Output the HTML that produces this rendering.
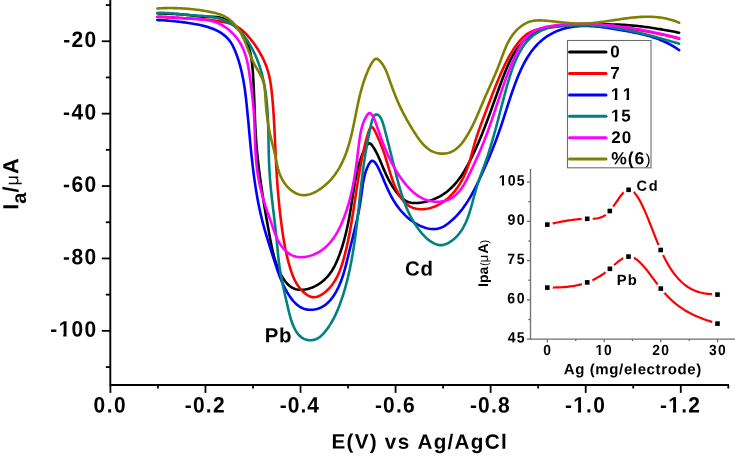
<!DOCTYPE html>
<html><head><meta charset="utf-8"><style>
html,body{margin:0;padding:0;background:#fff;}
body{width:735px;height:457px;overflow:hidden;}
svg{display:block;font-family:"Liberation Sans",sans-serif;will-change:transform;text-rendering:geometricPrecision;font-kerning:none;}
</style></head><body>
<svg width="735" height="457" viewBox="0 0 735 457">
<defs><mask id="m_cd" maskUnits="userSpaceOnUse" x="0" y="0" width="735" height="457"><rect x="0" y="0" width="735" height="457" fill="#fff"/><circle cx="547.30" cy="224.60" r="5.60" fill="#000"/><circle cx="587.20" cy="218.80" r="5.60" fill="#000"/><circle cx="609.80" cy="211.00" r="5.60" fill="#000"/><circle cx="628.60" cy="189.80" r="5.60" fill="#000"/><circle cx="660.70" cy="250.00" r="5.60" fill="#000"/><circle cx="717.50" cy="294.60" r="5.60" fill="#000"/></mask><mask id="m_pb" maskUnits="userSpaceOnUse" x="0" y="0" width="735" height="457"><rect x="0" y="0" width="735" height="457" fill="#fff"/><circle cx="547.30" cy="287.60" r="5.60" fill="#000"/><circle cx="587.20" cy="282.40" r="5.60" fill="#000"/><circle cx="609.90" cy="268.80" r="5.60" fill="#000"/><circle cx="628.50" cy="256.60" r="5.60" fill="#000"/><circle cx="660.80" cy="288.60" r="5.60" fill="#000"/><circle cx="717.50" cy="323.60" r="5.60" fill="#000"/></mask></defs>
<rect width="735" height="457" fill="#fff"/>
<path d="M157.43,13.28 L158.86,13.35 L160.31,13.41 L161.76,13.47 L163.21,13.53 L164.68,13.59 L166.15,13.64 L167.63,13.70 L169.11,13.75 L170.61,13.81 L172.10,13.87 L173.60,13.94 L175.11,14.01 L176.62,14.09 L178.13,14.17 L179.65,14.27 L181.16,14.37 L182.68,14.48 L184.21,14.61 L185.73,14.75 L187.25,14.90 L188.78,15.06 L190.30,15.24 L191.82,15.43 L193.35,15.62 L194.87,15.81 L196.39,16.00 L197.90,16.18 L199.41,16.35 L200.92,16.50 L202.43,16.63 L203.93,16.73 L205.43,16.80 L206.92,16.85 L208.41,16.85 L209.89,16.84 L211.36,16.83 L212.83,16.83 L214.29,16.87 L215.74,16.95 L217.18,17.10 L218.62,17.33 L220.04,17.64 L221.45,18.02 L222.85,18.47 L224.23,19.00 L225.59,19.58 L226.93,20.23 L228.25,20.95 L229.54,21.71 L230.82,22.54 L232.06,23.41 L233.27,24.34 L234.46,25.31 L235.61,26.32 L236.72,27.37 L237.80,28.46 L238.84,29.59 L239.84,30.75 L240.80,31.93 L241.72,33.14 L242.59,34.38 L243.41,35.63 L244.18,36.90 L244.91,38.20 L245.60,39.50 L246.24,40.83 L246.85,42.17 L247.41,43.53 L247.94,44.90 L248.43,46.28 L248.89,47.68 L249.31,49.09 L249.70,50.51 L250.06,51.94 L250.40,53.39 L250.71,54.84 L250.99,56.30 L251.25,57.77 L251.49,59.24 L251.70,60.73 L251.90,62.21 L252.08,63.71 L252.25,65.20 L252.40,66.71 L252.53,68.21 L252.66,69.72 L252.78,71.23 L252.89,72.73 L252.99,74.24 L253.09,75.75 L253.18,77.26 L253.27,78.77 L253.36,80.27 L253.44,81.78 L253.52,83.28 L253.60,84.78 L253.67,86.29 L253.74,87.79 L253.81,89.29 L253.88,90.79 L253.94,92.29 L254.00,93.79 L254.07,95.29 L254.12,96.78 L254.18,98.28 L254.24,99.78 L254.30,101.27 L254.35,102.77 L254.41,104.26 L254.46,105.76 L254.52,107.25 L254.57,108.74 L254.63,110.24 L254.68,111.73 L254.74,113.22 L254.80,114.72 L254.86,116.21 L254.92,117.70 L254.98,119.19 L255.04,120.68 L255.11,122.17 L255.17,123.66 L255.24,125.15 L255.32,126.65 L255.39,128.14 L255.47,129.63 L255.55,131.12 L255.63,132.61 L255.72,134.10 L255.81,135.59 L255.91,137.08 L256.01,138.57 L256.11,140.06 L256.22,141.56 L256.34,143.05 L256.45,144.54 L256.57,146.03 L256.70,147.52 L256.83,149.02 L256.97,150.51 L257.10,152.00 L257.25,153.49 L257.39,154.98 L257.55,156.48 L257.70,157.97 L257.86,159.46 L258.02,160.95 L258.19,162.45 L258.35,163.94 L258.53,165.43 L258.70,166.92 L258.88,168.41 L259.07,169.90 L259.25,171.39 L259.44,172.88 L259.64,174.38 L259.83,175.87 L260.03,177.36 L260.23,178.84 L260.44,180.33 L260.64,181.82 L260.85,183.31 L261.07,184.80 L261.28,186.29 L261.50,187.77 L261.72,189.26 L261.95,190.75 L262.17,192.23 L262.40,193.72 L262.63,195.20 L262.86,196.69 L263.10,198.17 L263.33,199.65 L263.57,201.13 L263.81,202.61 L264.05,204.10 L264.30,205.58 L264.54,207.05 L264.79,208.53 L265.04,210.01 L265.29,211.49 L265.54,212.96 L265.80,214.44 L266.05,215.91 L266.31,217.39 L266.57,218.86 L266.83,220.33 L267.09,221.80 L267.35,223.27 L267.61,224.74 L267.87,226.21 L268.14,227.68 L268.40,229.14 L268.67,230.61 L268.93,232.07 L269.20,233.53 L269.46,235.00 L269.73,236.46 L270.00,237.92 L270.27,239.37 L270.54,240.83 L270.82,242.29 L271.10,243.74 L271.39,245.19 L271.69,246.64 L272.00,248.09 L272.32,249.54 L272.65,250.99 L272.99,252.43 L273.35,253.88 L273.72,255.32 L274.11,256.76 L274.52,258.20 L274.95,259.63 L275.40,261.07 L275.88,262.50 L276.37,263.93 L276.90,265.36 L277.44,266.78 L278.02,268.21 L278.62,269.63 L279.26,271.05 L279.93,272.47 L280.63,273.88 L281.36,275.27 L282.13,276.64 L282.93,277.99 L283.78,279.30 L284.66,280.56 L285.58,281.77 L286.55,282.92 L287.56,284.01 L288.61,285.03 L289.71,285.96 L290.86,286.81 L292.05,287.56 L293.30,288.20 L294.59,288.74 L295.94,289.17 L297.33,289.48 L298.75,289.69 L300.21,289.79 L301.69,289.80 L303.20,289.71 L304.71,289.54 L306.24,289.28 L307.76,288.93 L309.28,288.51 L310.79,288.02 L312.28,287.46 L313.74,286.83 L315.18,286.14 L316.57,285.40 L317.93,284.60 L319.26,283.76 L320.54,282.87 L321.77,281.94 L322.96,280.97 L324.11,279.97 L325.21,278.95 L326.26,277.90 L327.26,276.83 L328.21,275.73 L329.12,274.62 L329.99,273.48 L330.82,272.33 L331.62,271.15 L332.37,269.96 L333.10,268.74 L333.80,267.51 L334.47,266.27 L335.11,265.00 L335.73,263.72 L336.33,262.42 L336.91,261.11 L337.48,259.79 L338.03,258.45 L338.57,257.09 L339.09,255.73 L339.61,254.35 L340.11,252.96 L340.61,251.55 L341.09,250.14 L341.56,248.72 L342.02,247.28 L342.47,245.84 L342.91,244.39 L343.34,242.93 L343.75,241.46 L344.16,239.99 L344.56,238.51 L344.95,237.02 L345.33,235.53 L345.71,234.03 L346.07,232.53 L346.42,231.03 L346.77,229.52 L347.11,228.01 L347.43,226.50 L347.75,224.98 L348.07,223.47 L348.37,221.95 L348.67,220.44 L348.96,218.92 L349.25,217.41 L349.52,215.89 L349.79,214.38 L350.06,212.88 L350.31,211.37 L350.56,209.87 L350.81,208.38 L351.05,206.88 L351.28,205.39 L351.52,203.91 L351.75,202.43 L351.97,200.95 L352.20,199.47 L352.42,198.00 L352.65,196.53 L352.87,195.06 L353.10,193.60 L353.33,192.14 L353.56,190.68 L353.79,189.22 L354.03,187.77 L354.27,186.32 L354.51,184.87 L354.77,183.42 L355.03,181.98 L355.29,180.53 L355.56,179.09 L355.84,177.65 L356.13,176.21 L356.43,174.78 L356.74,173.34 L357.07,171.91 L357.40,170.48 L357.74,169.05 L358.10,167.62 L358.47,166.19 L358.86,164.77 L359.26,163.34 L359.68,161.91 L360.12,160.49 L360.59,159.06 L361.08,157.64 L361.60,156.22 L362.15,154.79 L362.74,153.37 L363.37,151.95 L364.03,150.53 L364.74,149.10 L365.49,147.68 L366.30,146.27 L367.14,144.98 L368.01,143.95 L368.91,143.35 L369.81,143.32 L370.72,143.82 L371.62,144.72 L372.49,145.87 L373.34,147.13 L374.15,148.42 L374.93,149.75 L375.68,151.10 L376.40,152.48 L377.11,153.88 L377.78,155.29 L378.44,156.71 L379.08,158.14 L379.71,159.58 L380.32,161.00 L380.92,162.43 L381.51,163.84 L382.10,165.24 L382.68,166.63 L383.26,168.01 L383.85,169.38 L384.43,170.74 L385.02,172.09 L385.62,173.43 L386.23,174.77 L386.85,176.10 L387.49,177.42 L388.14,178.73 L388.81,180.04 L389.50,181.34 L390.22,182.64 L390.96,183.93 L391.73,185.22 L392.53,186.51 L393.37,187.79 L394.24,189.07 L395.14,190.34 L396.09,191.62 L397.08,192.88 L398.10,194.12 L399.17,195.33 L400.26,196.49 L401.40,197.59 L402.56,198.62 L403.76,199.56 L404.98,200.40 L406.24,201.13 L407.52,201.73 L408.83,202.21 L410.16,202.58 L411.52,202.83 L412.89,202.99 L414.29,203.07 L415.70,203.07 L417.14,203.01 L418.58,202.90 L420.04,202.73 L421.52,202.53 L423.00,202.28 L424.48,201.98 L425.97,201.65 L427.45,201.27 L428.94,200.85 L430.41,200.39 L431.88,199.89 L433.33,199.35 L434.77,198.77 L436.19,198.15 L437.59,197.49 L438.97,196.80 L440.32,196.07 L441.64,195.31 L442.93,194.51 L444.19,193.68 L445.42,192.81 L446.61,191.92 L447.78,190.99 L448.92,190.04 L450.04,189.05 L451.12,188.04 L452.19,187.00 L453.22,185.94 L454.23,184.85 L455.22,183.74 L456.19,182.61 L457.13,181.46 L458.05,180.29 L458.95,179.09 L459.84,177.88 L460.70,176.66 L461.54,175.42 L462.37,174.16 L463.18,172.89 L463.97,171.61 L464.75,170.32 L465.52,169.01 L466.27,167.70 L467.00,166.38 L467.73,165.05 L468.44,163.72 L469.15,162.38 L469.84,161.04 L470.52,159.69 L471.20,158.34 L471.86,156.99 L472.52,155.64 L473.17,154.29 L473.82,152.93 L474.45,151.58 L475.08,150.22 L475.70,148.86 L476.31,147.50 L476.92,146.14 L477.52,144.77 L478.12,143.40 L478.71,142.04 L479.29,140.67 L479.87,139.29 L480.44,137.92 L481.01,136.55 L481.57,135.17 L482.13,133.79 L482.68,132.41 L483.23,131.03 L483.77,129.65 L484.32,128.27 L484.85,126.88 L485.39,125.49 L485.92,124.11 L486.44,122.72 L486.97,121.33 L487.49,119.93 L488.01,118.54 L488.53,117.15 L489.04,115.75 L489.56,114.35 L490.07,112.95 L490.58,111.55 L491.09,110.15 L491.59,108.75 L492.10,107.35 L492.61,105.94 L493.12,104.53 L493.62,103.13 L494.13,101.72 L494.64,100.31 L495.14,98.90 L495.65,97.49 L496.16,96.07 L496.67,94.66 L497.18,93.24 L497.70,91.83 L498.21,90.41 L498.73,88.99 L499.25,87.57 L499.77,86.15 L500.29,84.73 L500.82,83.31 L501.35,81.89 L501.88,80.46 L502.42,79.04 L502.96,77.61 L503.51,76.19 L504.06,74.76 L504.61,73.33 L505.17,71.91 L505.75,70.49 L506.33,69.08 L506.92,67.67 L507.52,66.27 L508.13,64.88 L508.76,63.50 L509.40,62.12 L510.06,60.76 L510.73,59.41 L511.42,58.07 L512.13,56.75 L512.86,55.45 L513.61,54.16 L514.38,52.88 L515.18,51.63 L515.99,50.40 L516.84,49.19 L517.71,48.00 L518.60,46.83 L519.52,45.69 L520.48,44.58 L521.46,43.49 L522.47,42.42 L523.51,41.39 L524.59,40.39 L525.69,39.41 L526.83,38.47 L527.98,37.55 L529.17,36.67 L530.38,35.81 L531.62,34.99 L532.88,34.20 L534.16,33.44 L535.46,32.72 L536.79,32.02 L538.13,31.36 L539.49,30.74 L540.88,30.14 L542.27,29.58 L543.69,29.06 L545.11,28.57 L546.56,28.12 L548.01,27.70 L549.48,27.32 L550.96,26.97 L552.44,26.65 L553.93,26.37 L555.43,26.11 L556.93,25.87 L558.43,25.66 L559.94,25.48 L561.44,25.32 L562.94,25.18 L564.45,25.06 L565.95,24.95 L567.45,24.87 L568.95,24.79 L570.45,24.73 L571.95,24.69 L573.44,24.65 L574.94,24.62 L576.44,24.60 L577.94,24.59 L579.43,24.58 L580.93,24.57 L582.42,24.56 L583.92,24.56 L585.42,24.55 L586.91,24.54 L588.41,24.53 L589.90,24.51 L591.40,24.50 L592.89,24.48 L594.39,24.47 L595.88,24.45 L597.38,24.44 L598.87,24.42 L600.37,24.41 L601.86,24.40 L603.35,24.40 L604.85,24.39 L606.34,24.40 L607.84,24.40 L609.33,24.41 L610.83,24.43 L612.32,24.45 L613.82,24.48 L615.31,24.52 L616.81,24.56 L618.30,24.61 L619.80,24.67 L621.29,24.74 L622.79,24.82 L624.29,24.90 L625.78,25.00 L627.28,25.10 L628.77,25.21 L630.27,25.33 L631.76,25.46 L633.26,25.59 L634.75,25.73 L636.25,25.88 L637.74,26.04 L639.23,26.21 L640.73,26.38 L642.22,26.55 L643.71,26.74 L645.20,26.93 L646.69,27.13 L648.18,27.33 L649.66,27.54 L651.15,27.75 L652.64,27.97 L654.12,28.20 L655.60,28.43 L657.09,28.67 L658.57,28.91 L660.05,29.15 L661.52,29.40 L663.00,29.66 L664.47,29.92 L665.95,30.18 L667.42,30.45 L668.89,30.72 L670.36,30.99 L671.82,31.27 L673.28,31.55 L674.75,31.83 L676.21,32.12 L677.66,32.41 L679.12,32.70" stroke="#000000" stroke-width="2.6" fill="none" stroke-linejoin="round" stroke-linecap="round"/>
<path d="M157.27,17.01 L158.79,17.07 L160.30,17.14 L161.81,17.20 L163.32,17.26 L164.83,17.32 L166.33,17.38 L167.83,17.45 L169.33,17.51 L170.82,17.57 L172.32,17.63 L173.81,17.69 L175.30,17.76 L176.79,17.83 L178.28,17.89 L179.77,17.96 L181.26,18.03 L182.74,18.11 L184.23,18.18 L185.72,18.26 L187.20,18.34 L188.69,18.43 L190.18,18.52 L191.67,18.61 L193.15,18.70 L194.64,18.80 L196.14,18.91 L197.63,19.01 L199.12,19.13 L200.62,19.24 L202.12,19.37 L203.61,19.50 L205.12,19.63 L206.62,19.77 L208.13,19.91 L209.64,20.06 L211.15,20.22 L212.67,20.39 L214.19,20.56 L215.71,20.74 L217.23,20.94 L218.74,21.15 L220.25,21.38 L221.75,21.63 L223.24,21.91 L224.72,22.21 L226.19,22.55 L227.63,22.92 L229.06,23.33 L230.46,23.78 L231.85,24.27 L233.20,24.80 L234.53,25.39 L235.82,26.02 L237.09,26.71 L238.31,27.46 L239.51,28.26 L240.68,29.11 L241.81,30.00 L242.92,30.94 L244.01,31.92 L245.06,32.94 L246.10,33.99 L247.11,35.08 L248.10,36.19 L249.08,37.33 L250.04,38.49 L250.98,39.67 L251.90,40.86 L252.82,42.07 L253.72,43.30 L254.61,44.54 L255.48,45.79 L256.33,47.05 L257.17,48.33 L257.99,49.61 L258.79,50.91 L259.57,52.23 L260.33,53.55 L261.07,54.88 L261.79,56.22 L262.49,57.58 L263.16,58.94 L263.81,60.31 L264.43,61.69 L265.03,63.08 L265.61,64.48 L266.15,65.88 L266.67,67.30 L267.16,68.72 L267.61,70.14 L268.04,71.57 L268.44,73.01 L268.82,74.46 L269.17,75.91 L269.49,77.36 L269.80,78.82 L270.08,80.29 L270.34,81.75 L270.59,83.22 L270.81,84.70 L271.02,86.17 L271.22,87.65 L271.41,89.14 L271.58,90.62 L271.75,92.10 L271.90,93.59 L272.05,95.08 L272.20,96.56 L272.34,98.05 L272.47,99.54 L272.60,101.02 L272.73,102.51 L272.85,104.00 L272.97,105.49 L273.08,106.97 L273.20,108.46 L273.30,109.95 L273.41,111.44 L273.51,112.92 L273.61,114.41 L273.71,115.90 L273.80,117.39 L273.89,118.88 L273.98,120.37 L274.06,121.86 L274.15,123.35 L274.23,124.83 L274.31,126.32 L274.39,127.81 L274.46,129.30 L274.54,130.79 L274.61,132.28 L274.68,133.77 L274.76,135.27 L274.83,136.76 L274.90,138.25 L274.97,139.74 L275.03,141.23 L275.10,142.72 L275.17,144.21 L275.24,145.71 L275.31,147.20 L275.38,148.69 L275.44,150.18 L275.51,151.68 L275.58,153.17 L275.65,154.66 L275.73,156.16 L275.80,157.65 L275.87,159.15 L275.95,160.64 L276.02,162.13 L276.10,163.63 L276.18,165.12 L276.26,166.62 L276.35,168.12 L276.43,169.61 L276.52,171.11 L276.61,172.60 L276.70,174.10 L276.80,175.60 L276.90,177.10 L277.00,178.59 L277.10,180.09 L277.21,181.59 L277.31,183.09 L277.42,184.59 L277.54,186.09 L277.65,187.59 L277.77,189.09 L277.89,190.59 L278.02,192.09 L278.14,193.59 L278.27,195.09 L278.41,196.59 L278.54,198.09 L278.68,199.60 L278.83,201.10 L278.97,202.60 L279.12,204.11 L279.27,205.61 L279.43,207.11 L279.58,208.62 L279.74,210.12 L279.91,211.63 L280.08,213.13 L280.25,214.64 L280.42,216.15 L280.60,217.65 L280.78,219.16 L280.97,220.67 L281.16,222.17 L281.35,223.68 L281.55,225.19 L281.75,226.70 L281.95,228.21 L282.16,229.72 L282.38,231.22 L282.60,232.73 L282.82,234.23 L283.05,235.73 L283.29,237.23 L283.53,238.73 L283.78,240.23 L284.04,241.72 L284.30,243.21 L284.57,244.69 L284.85,246.17 L285.13,247.65 L285.42,249.13 L285.73,250.59 L286.04,252.06 L286.35,253.52 L286.68,254.97 L287.02,256.42 L287.36,257.86 L287.72,259.30 L288.09,260.73 L288.46,262.15 L288.85,263.56 L289.25,264.97 L289.66,266.37 L290.08,267.76 L290.51,269.15 L290.95,270.52 L291.41,271.89 L291.88,273.25 L292.38,274.60 L292.90,275.94 L293.44,277.27 L294.02,278.58 L294.64,279.89 L295.30,281.19 L296.00,282.48 L296.75,283.75 L297.56,285.02 L298.42,286.27 L299.34,287.51 L300.33,288.74 L301.38,289.95 L302.50,291.12 L303.67,292.25 L304.89,293.30 L306.15,294.27 L307.45,295.13 L308.79,295.87 L310.14,296.47 L311.51,296.90 L312.90,297.16 L314.29,297.22 L315.69,297.08 L317.07,296.77 L318.45,296.29 L319.80,295.68 L321.13,294.96 L322.43,294.14 L323.70,293.24 L324.92,292.29 L326.09,291.30 L327.21,290.28 L328.29,289.22 L329.33,288.14 L330.32,287.02 L331.27,285.87 L332.18,284.70 L333.05,283.50 L333.88,282.28 L334.68,281.03 L335.44,279.76 L336.17,278.46 L336.87,277.15 L337.54,275.82 L338.18,274.47 L338.79,273.10 L339.38,271.72 L339.94,270.32 L340.47,268.91 L340.99,267.49 L341.48,266.06 L341.96,264.62 L342.42,263.17 L342.86,261.71 L343.29,260.25 L343.70,258.78 L344.11,257.31 L344.50,255.84 L344.88,254.37 L345.26,252.90 L345.62,251.42 L345.98,249.95 L346.33,248.48 L346.68,247.01 L347.01,245.53 L347.34,244.06 L347.66,242.58 L347.98,241.11 L348.29,239.64 L348.59,238.16 L348.89,236.69 L349.18,235.21 L349.47,233.74 L349.75,232.26 L350.02,230.79 L350.30,229.31 L350.56,227.84 L350.82,226.36 L351.08,224.89 L351.34,223.42 L351.59,221.94 L351.83,220.47 L352.08,218.99 L352.32,217.52 L352.55,216.04 L352.79,214.57 L353.02,213.09 L353.25,211.62 L353.48,210.15 L353.71,208.67 L353.93,207.20 L354.15,205.72 L354.38,204.25 L354.60,202.78 L354.82,201.31 L355.04,199.83 L355.26,198.36 L355.48,196.89 L355.70,195.42 L355.92,193.94 L356.15,192.47 L356.37,191.00 L356.59,189.53 L356.82,188.06 L357.04,186.59 L357.27,185.12 L357.50,183.65 L357.74,182.18 L357.97,180.72 L358.21,179.25 L358.45,177.78 L358.69,176.31 L358.94,174.84 L359.19,173.38 L359.44,171.91 L359.70,170.44 L359.96,168.96 L360.23,167.49 L360.50,166.01 L360.78,164.53 L361.06,163.05 L361.35,161.57 L361.64,160.08 L361.94,158.59 L362.24,157.09 L362.55,155.59 L362.87,154.09 L363.19,152.58 L363.52,151.06 L363.86,149.54 L364.20,148.01 L364.55,146.48 L364.91,144.94 L365.29,143.41 L365.67,141.87 L366.06,140.33 L366.47,138.80 L366.89,137.28 L367.33,135.77 L367.79,134.27 L368.26,132.78 L368.76,131.33 L369.27,129.97 L369.81,128.79 L370.37,127.84 L370.96,127.21 L371.57,126.95 L372.20,127.13 L372.86,127.71 L373.54,128.62 L374.22,129.78 L374.91,131.09 L375.59,132.47 L376.27,133.88 L376.94,135.30 L377.59,136.73 L378.24,138.17 L378.88,139.62 L379.50,141.07 L380.12,142.54 L380.72,144.01 L381.31,145.48 L381.88,146.95 L382.44,148.43 L382.98,149.90 L383.51,151.37 L384.02,152.84 L384.52,154.30 L385.00,155.76 L385.46,157.21 L385.91,158.65 L386.35,160.09 L386.78,161.52 L387.20,162.95 L387.62,164.37 L388.04,165.79 L388.45,167.20 L388.86,168.61 L389.28,170.02 L389.70,171.42 L390.12,172.82 L390.55,174.21 L391.00,175.61 L391.45,177.00 L391.92,178.38 L392.40,179.77 L392.90,181.15 L393.42,182.53 L393.95,183.91 L394.52,185.29 L395.10,186.66 L395.71,188.04 L396.36,189.42 L397.03,190.79 L397.73,192.16 L398.47,193.53 L399.24,194.90 L400.05,196.24 L400.90,197.55 L401.80,198.83 L402.73,200.07 L403.71,201.25 L404.74,202.37 L405.82,203.42 L406.94,204.40 L408.12,205.28 L409.36,206.08 L410.64,206.78 L411.97,207.39 L413.34,207.91 L414.74,208.35 L416.18,208.69 L417.64,208.95 L419.12,209.12 L420.61,209.21 L422.12,209.22 L423.64,209.15 L425.16,209.00 L426.67,208.79 L428.18,208.50 L429.68,208.16 L431.16,207.75 L432.62,207.29 L434.05,206.78 L435.45,206.21 L436.83,205.60 L438.19,204.94 L439.51,204.23 L440.82,203.48 L442.09,202.68 L443.34,201.84 L444.56,200.97 L445.75,200.05 L446.92,199.10 L448.06,198.12 L449.18,197.10 L450.26,196.05 L451.33,194.97 L452.36,193.86 L453.37,192.72 L454.35,191.55 L455.30,190.37 L456.23,189.16 L457.13,187.92 L458.00,186.67 L458.85,185.40 L459.67,184.12 L460.46,182.82 L461.22,181.51 L461.96,180.18 L462.67,178.85 L463.35,177.50 L464.01,176.15 L464.64,174.79 L465.24,173.43 L465.81,172.07 L466.37,170.70 L466.90,169.33 L467.41,167.95 L467.90,166.57 L468.37,165.19 L468.83,163.80 L469.27,162.41 L469.70,161.02 L470.12,159.62 L470.53,158.22 L470.93,156.82 L471.32,155.41 L471.71,154.00 L472.10,152.59 L472.48,151.18 L472.87,149.77 L473.25,148.35 L473.64,146.93 L474.04,145.51 L474.44,144.09 L474.85,142.66 L475.27,141.24 L475.69,139.81 L476.13,138.38 L476.59,136.95 L477.06,135.52 L477.54,134.09 L478.03,132.66 L478.53,131.22 L479.03,129.79 L479.55,128.36 L480.07,126.92 L480.60,125.49 L481.13,124.05 L481.67,122.62 L482.20,121.18 L482.74,119.75 L483.28,118.32 L483.82,116.88 L484.35,115.45 L484.89,114.02 L485.43,112.59 L485.97,111.16 L486.51,109.73 L487.04,108.31 L487.58,106.88 L488.12,105.46 L488.67,104.04 L489.21,102.61 L489.75,101.20 L490.29,99.78 L490.84,98.36 L491.38,96.95 L491.93,95.54 L492.48,94.14 L493.03,92.73 L493.58,91.33 L494.13,89.93 L494.69,88.53 L495.24,87.14 L495.80,85.75 L496.36,84.36 L496.92,82.98 L497.49,81.60 L498.05,80.23 L498.62,78.85 L499.19,77.49 L499.77,76.12 L500.34,74.76 L500.92,73.41 L501.51,72.06 L502.10,70.71 L502.71,69.37 L503.31,68.03 L503.93,66.70 L504.56,65.37 L505.20,64.04 L505.85,62.72 L506.51,61.41 L507.19,60.10 L507.88,58.79 L508.58,57.49 L509.31,56.20 L510.05,54.91 L510.80,53.62 L511.58,52.34 L512.38,51.07 L513.20,49.80 L514.04,48.54 L514.90,47.28 L515.79,46.03 L516.70,44.78 L517.64,43.54 L518.61,42.31 L519.60,41.11 L520.62,39.92 L521.67,38.78 L522.75,37.67 L523.86,36.62 L525.01,35.62 L526.18,34.68 L527.39,33.82 L528.64,33.03 L529.92,32.32 L531.23,31.67 L532.57,31.10 L533.93,30.58 L535.32,30.11 L536.73,29.70 L538.16,29.33 L539.60,29.01 L541.06,28.72 L542.54,28.46 L544.02,28.22 L545.51,28.01 L547.01,27.82 L548.51,27.63 L550.02,27.46 L551.52,27.28 L553.02,27.11 L554.52,26.95 L556.03,26.78 L557.53,26.62 L559.03,26.47 L560.53,26.32 L562.02,26.17 L563.52,26.03 L565.02,25.89 L566.52,25.77 L568.02,25.64 L569.51,25.53 L571.01,25.42 L572.51,25.32 L574.00,25.23 L575.50,25.15 L577.00,25.07 L578.49,25.00 L579.99,24.95 L581.48,24.90 L582.98,24.87 L584.48,24.84 L585.97,24.83 L587.47,24.83 L588.96,24.84 L590.46,24.86 L591.95,24.89 L593.45,24.94 L594.94,24.99 L596.44,25.06 L597.93,25.14 L599.43,25.22 L600.92,25.32 L602.42,25.43 L603.91,25.54 L605.41,25.66 L606.90,25.79 L608.39,25.93 L609.89,26.08 L611.38,26.23 L612.87,26.39 L614.36,26.56 L615.85,26.73 L617.34,26.91 L618.83,27.09 L620.32,27.28 L621.81,27.47 L623.30,27.67 L624.78,27.87 L626.27,28.08 L627.75,28.29 L629.24,28.51 L630.72,28.73 L632.21,28.95 L633.69,29.18 L635.17,29.42 L636.65,29.66 L638.13,29.90 L639.61,30.15 L641.09,30.40 L642.56,30.66 L644.04,30.92 L645.51,31.19 L646.99,31.46 L648.46,31.74 L649.93,32.02 L651.40,32.31 L652.87,32.60 L654.34,32.90 L655.81,33.20 L657.28,33.50 L658.74,33.81 L660.21,34.13 L661.67,34.45 L663.13,34.77 L664.59,35.10 L666.05,35.43 L667.51,35.77 L668.97,36.12 L670.43,36.46 L671.88,36.82 L673.33,37.17 L674.79,37.54 L676.24,37.90 L677.69,38.27 L679.14,38.65" stroke="#ff0000" stroke-width="2.6" fill="none" stroke-linejoin="round" stroke-linecap="round"/>
<path d="M157.30,20.02 L158.81,20.08 L160.31,20.14 L161.81,20.21 L163.31,20.30 L164.80,20.39 L166.29,20.49 L167.78,20.60 L169.27,20.72 L170.75,20.85 L172.23,20.99 L173.71,21.14 L175.19,21.29 L176.67,21.45 L178.15,21.62 L179.63,21.79 L181.11,21.97 L182.60,22.16 L184.08,22.36 L185.56,22.56 L187.05,22.77 L188.54,22.98 L190.03,23.20 L191.52,23.43 L193.01,23.67 L194.50,23.92 L196.00,24.18 L197.48,24.46 L198.97,24.76 L200.45,25.07 L201.93,25.41 L203.40,25.76 L204.86,26.14 L206.31,26.55 L207.76,26.98 L209.20,27.45 L210.63,27.94 L212.04,28.47 L213.44,29.03 L214.82,29.62 L216.18,30.25 L217.52,30.92 L218.83,31.63 L220.12,32.38 L221.37,33.16 L222.59,34.00 L223.76,34.87 L224.90,35.79 L226.00,36.76 L227.05,37.78 L228.05,38.85 L229.01,39.96 L229.90,41.13 L230.75,42.35 L231.54,43.61 L232.30,44.91 L233.00,46.24 L233.68,47.60 L234.31,48.99 L234.92,50.40 L235.50,51.82 L236.05,53.24 L236.58,54.68 L237.10,56.11 L237.60,57.55 L238.07,58.99 L238.54,60.43 L238.98,61.87 L239.41,63.32 L239.82,64.76 L240.22,66.21 L240.60,67.66 L240.97,69.11 L241.32,70.57 L241.66,72.02 L241.99,73.48 L242.31,74.94 L242.61,76.40 L242.90,77.86 L243.18,79.32 L243.45,80.79 L243.70,82.25 L243.95,83.72 L244.19,85.19 L244.42,86.66 L244.64,88.13 L244.85,89.60 L245.06,91.07 L245.25,92.55 L245.44,94.02 L245.63,95.50 L245.81,96.98 L245.98,98.45 L246.15,99.93 L246.31,101.42 L246.47,102.90 L246.63,104.38 L246.78,105.86 L246.93,107.35 L247.08,108.83 L247.23,110.32 L247.37,111.81 L247.52,113.29 L247.66,114.78 L247.80,116.27 L247.94,117.76 L248.08,119.25 L248.22,120.74 L248.36,122.23 L248.50,123.72 L248.64,125.22 L248.77,126.71 L248.91,128.20 L249.05,129.69 L249.19,131.19 L249.32,132.68 L249.46,134.18 L249.60,135.67 L249.74,137.17 L249.88,138.66 L250.02,140.16 L250.16,141.65 L250.31,143.15 L250.45,144.64 L250.60,146.14 L250.74,147.63 L250.89,149.13 L251.04,150.62 L251.19,152.12 L251.35,153.61 L251.50,155.11 L251.66,156.60 L251.82,158.09 L251.98,159.59 L252.15,161.08 L252.32,162.57 L252.49,164.07 L252.66,165.56 L252.84,167.05 L253.02,168.54 L253.20,170.03 L253.38,171.52 L253.57,173.01 L253.77,174.50 L253.96,175.99 L254.16,177.48 L254.37,178.97 L254.57,180.45 L254.79,181.94 L255.00,183.42 L255.22,184.91 L255.45,186.39 L255.68,187.87 L255.91,189.35 L256.15,190.83 L256.40,192.31 L256.64,193.79 L256.90,195.27 L257.16,196.74 L257.42,198.22 L257.69,199.69 L257.97,201.17 L258.25,202.64 L258.54,204.11 L258.84,205.58 L259.14,207.04 L259.44,208.51 L259.75,209.97 L260.07,211.44 L260.40,212.90 L260.73,214.36 L261.07,215.82 L261.42,217.28 L261.77,218.73 L262.13,220.19 L262.50,221.64 L262.87,223.09 L263.26,224.54 L263.65,225.99 L264.04,227.43 L264.45,228.88 L264.86,230.32 L265.28,231.76 L265.70,233.20 L266.12,234.63 L266.56,236.07 L266.99,237.50 L267.43,238.93 L267.87,240.36 L268.32,241.79 L268.76,243.22 L269.21,244.64 L269.67,246.07 L270.12,247.49 L270.57,248.91 L271.02,250.32 L271.48,251.74 L271.93,253.16 L272.38,254.57 L272.83,255.98 L273.28,257.39 L273.73,258.80 L274.17,260.20 L274.62,261.61 L275.06,263.01 L275.52,264.41 L275.97,265.81 L276.43,267.21 L276.90,268.60 L277.37,270.00 L277.86,271.39 L278.35,272.78 L278.86,274.17 L279.38,275.55 L279.91,276.94 L280.46,278.32 L281.03,279.71 L281.61,281.09 L282.21,282.46 L282.84,283.84 L283.48,285.22 L284.15,286.59 L284.84,287.96 L285.56,289.33 L286.30,290.70 L287.07,292.07 L287.87,293.42 L288.70,294.76 L289.56,296.07 L290.45,297.36 L291.37,298.61 L292.32,299.83 L293.31,301.01 L294.33,302.13 L295.39,303.20 L296.48,304.21 L297.61,305.15 L298.78,306.02 L299.99,306.82 L301.23,307.53 L302.52,308.15 L303.85,308.68 L305.22,309.11 L306.63,309.44 L308.08,309.66 L309.55,309.78 L311.04,309.81 L312.54,309.73 L314.03,309.57 L315.52,309.31 L316.99,308.96 L318.42,308.52 L319.83,308.00 L321.18,307.39 L322.49,306.71 L323.75,305.95 L324.96,305.12 L326.12,304.22 L327.25,303.26 L328.33,302.25 L329.37,301.18 L330.37,300.07 L331.33,298.91 L332.25,297.72 L333.13,296.49 L333.98,295.23 L334.80,293.95 L335.58,292.64 L336.33,291.32 L337.05,289.98 L337.74,288.63 L338.41,287.26 L339.04,285.88 L339.65,284.48 L340.23,283.08 L340.80,281.67 L341.34,280.26 L341.85,278.84 L342.35,277.41 L342.83,275.98 L343.29,274.54 L343.74,273.09 L344.17,271.65 L344.59,270.20 L344.99,268.75 L345.39,267.29 L345.77,265.83 L346.14,264.38 L346.51,262.92 L346.87,261.46 L347.22,260.00 L347.57,258.54 L347.92,257.08 L348.27,255.63 L348.61,254.17 L348.96,252.72 L349.31,251.28 L349.66,249.83 L350.01,248.39 L350.36,246.95 L350.72,245.52 L351.07,244.08 L351.43,242.65 L351.79,241.22 L352.14,239.79 L352.50,238.36 L352.86,236.94 L353.21,235.51 L353.57,234.08 L353.92,232.65 L354.27,231.22 L354.62,229.79 L354.97,228.36 L355.31,226.92 L355.65,225.48 L355.99,224.04 L356.32,222.60 L356.65,221.16 L356.97,219.71 L357.29,218.25 L357.61,216.80 L357.92,215.34 L358.22,213.87 L358.52,212.40 L358.81,210.92 L359.09,209.44 L359.36,207.95 L359.63,206.45 L359.89,204.95 L360.15,203.44 L360.39,201.92 L360.63,200.40 L360.85,198.87 L361.07,197.32 L361.28,195.78 L361.49,194.23 L361.69,192.67 L361.90,191.12 L362.11,189.56 L362.33,188.01 L362.55,186.46 L362.79,184.92 L363.03,183.38 L363.30,181.86 L363.58,180.34 L363.88,178.84 L364.20,177.35 L364.55,175.88 L364.92,174.43 L365.33,172.99 L365.76,171.58 L366.23,170.19 L366.74,168.83 L367.29,167.49 L367.88,166.18 L368.51,164.90 L369.19,163.68 L369.90,162.60 L370.65,161.71 L371.42,161.10 L372.21,160.83 L373.02,160.94 L373.84,161.40 L374.67,162.15 L375.49,163.15 L376.31,164.35 L377.12,165.70 L377.91,167.16 L378.67,168.67 L379.42,170.19 L380.13,171.72 L380.83,173.24 L381.50,174.77 L382.16,176.28 L382.80,177.79 L383.43,179.29 L384.05,180.77 L384.67,182.24 L385.28,183.68 L385.89,185.11 L386.50,186.51 L387.11,187.89 L387.73,189.25 L388.36,190.59 L388.99,191.92 L389.63,193.23 L390.29,194.52 L390.96,195.80 L391.64,197.07 L392.35,198.33 L393.07,199.57 L393.82,200.81 L394.58,202.04 L395.38,203.26 L396.20,204.47 L397.04,205.68 L397.91,206.88 L398.81,208.06 L399.74,209.24 L400.69,210.39 L401.68,211.53 L402.68,212.66 L403.72,213.76 L404.78,214.84 L405.87,215.90 L406.99,216.94 L408.14,217.95 L409.32,218.93 L410.52,219.88 L411.75,220.81 L413.01,221.70 L414.30,222.55 L415.61,223.37 L416.95,224.14 L418.30,224.87 L419.67,225.56 L421.06,226.19 L422.46,226.77 L423.87,227.29 L425.28,227.76 L426.70,228.16 L428.12,228.49 L429.55,228.76 L430.97,228.95 L432.39,229.06 L433.81,229.08 L435.22,229.02 L436.62,228.86 L438.01,228.61 L439.39,228.25 L440.76,227.78 L442.11,227.21 L443.45,226.54 L444.76,225.79 L446.06,224.95 L447.33,224.06 L448.58,223.11 L449.80,222.13 L451.00,221.11 L452.17,220.08 L453.30,219.03 L454.41,217.97 L455.50,216.89 L456.55,215.80 L457.58,214.69 L458.59,213.56 L459.57,212.43 L460.53,211.28 L461.47,210.11 L462.39,208.94 L463.28,207.75 L464.16,206.55 L465.02,205.34 L465.85,204.12 L466.67,202.88 L467.48,201.64 L468.27,200.39 L469.04,199.13 L469.80,197.86 L470.54,196.58 L471.28,195.29 L472.00,194.00 L472.71,192.70 L473.41,191.39 L474.10,190.07 L474.78,188.75 L475.45,187.43 L476.11,186.09 L476.77,184.76 L477.43,183.42 L478.08,182.07 L478.72,180.72 L479.36,179.37 L480.00,178.01 L480.64,176.66 L481.27,175.30 L481.90,173.93 L482.53,172.57 L483.15,171.20 L483.77,169.83 L484.39,168.45 L485.00,167.08 L485.61,165.70 L486.21,164.32 L486.81,162.93 L487.41,161.55 L488.01,160.16 L488.60,158.77 L489.18,157.38 L489.77,155.99 L490.34,154.59 L490.92,153.19 L491.49,151.80 L492.05,150.39 L492.61,148.99 L493.17,147.59 L493.72,146.18 L494.27,144.78 L494.81,143.37 L495.35,141.96 L495.88,140.55 L496.41,139.14 L496.93,137.73 L497.45,136.31 L497.96,134.90 L498.47,133.48 L498.97,132.07 L499.47,130.65 L499.96,129.23 L500.44,127.81 L500.93,126.39 L501.40,124.97 L501.87,123.55 L502.34,122.13 L502.81,120.71 L503.27,119.29 L503.73,117.87 L504.19,116.45 L504.65,115.03 L505.10,113.61 L505.56,112.19 L506.01,110.76 L506.46,109.34 L506.92,107.92 L507.37,106.50 L507.83,105.08 L508.29,103.66 L508.75,102.24 L509.21,100.83 L509.67,99.41 L510.14,97.99 L510.61,96.58 L511.09,95.16 L511.57,93.75 L512.05,92.33 L512.54,90.92 L513.04,89.51 L513.54,88.10 L514.05,86.69 L514.57,85.28 L515.09,83.88 L515.62,82.47 L516.16,81.07 L516.70,79.67 L517.26,78.27 L517.82,76.87 L518.40,75.48 L518.98,74.09 L519.58,72.70 L520.19,71.32 L520.81,69.95 L521.45,68.58 L522.09,67.22 L522.76,65.87 L523.44,64.53 L524.13,63.20 L524.84,61.88 L525.56,60.57 L526.31,59.27 L527.07,57.99 L527.85,56.72 L528.65,55.47 L529.47,54.23 L530.31,53.01 L531.17,51.81 L532.05,50.63 L532.96,49.46 L533.89,48.31 L534.84,47.19 L535.82,46.08 L536.82,45.00 L537.84,43.94 L538.90,42.91 L539.98,41.90 L541.08,40.91 L542.22,39.95 L543.38,39.02 L544.57,38.11 L545.79,37.24 L547.03,36.39 L548.30,35.57 L549.59,34.79 L550.90,34.03 L552.23,33.31 L553.57,32.62 L554.94,31.96 L556.32,31.34 L557.71,30.76 L559.12,30.21 L560.54,29.70 L561.97,29.22 L563.40,28.79 L564.85,28.39 L566.30,28.02 L567.76,27.68 L569.23,27.38 L570.71,27.11 L572.19,26.87 L573.68,26.67 L575.17,26.49 L576.66,26.34 L578.16,26.21 L579.66,26.11 L581.17,26.04 L582.67,25.99 L584.18,25.97 L585.69,25.96 L587.20,25.98 L588.71,26.02 L590.21,26.08 L591.72,26.16 L593.22,26.25 L594.73,26.37 L596.23,26.49 L597.73,26.64 L599.23,26.79 L600.73,26.96 L602.23,27.15 L603.72,27.34 L605.22,27.55 L606.71,27.76 L608.20,27.98 L609.69,28.21 L611.18,28.45 L612.67,28.69 L614.16,28.94 L615.64,29.19 L617.13,29.44 L618.61,29.69 L620.09,29.95 L621.57,30.21 L623.04,30.46 L624.52,30.72 L625.99,30.98 L627.46,31.25 L628.93,31.52 L630.39,31.79 L631.86,32.07 L633.32,32.35 L634.77,32.64 L636.23,32.94 L637.68,33.25 L639.13,33.57 L640.57,33.89 L642.01,34.23 L643.45,34.58 L644.88,34.94 L646.31,35.32 L647.74,35.70 L649.16,36.11 L650.58,36.52 L651.99,36.96 L653.40,37.41 L654.80,37.88 L656.20,38.36 L657.59,38.87 L658.98,39.39 L660.36,39.94 L661.74,40.51 L663.11,41.09 L664.48,41.71 L665.84,42.34 L667.19,43.00 L668.54,43.69 L669.88,44.40 L671.21,45.14 L672.54,45.90 L673.87,46.69 L675.18,47.52 L676.49,48.37 L677.79,49.25 L679.09,50.16" stroke="#0000ff" stroke-width="2.6" fill="none" stroke-linejoin="round" stroke-linecap="round"/>
<path d="M157.21,12.98 L158.80,12.92 L160.38,12.90 L161.93,12.90 L163.46,12.92 L164.97,12.96 L166.46,13.03 L167.94,13.11 L169.41,13.21 L170.87,13.32 L172.32,13.44 L173.77,13.57 L175.21,13.71 L176.64,13.86 L178.08,14.01 L179.52,14.16 L180.96,14.31 L182.41,14.46 L183.86,14.61 L185.32,14.75 L186.80,14.88 L188.29,15.00 L189.79,15.12 L191.30,15.22 L192.82,15.32 L194.35,15.41 L195.89,15.51 L197.44,15.60 L198.99,15.70 L200.54,15.81 L202.09,15.92 L203.64,16.05 L205.19,16.19 L206.74,16.34 L208.28,16.52 L209.81,16.71 L211.33,16.93 L212.85,17.17 L214.35,17.44 L215.84,17.74 L217.31,18.07 L218.77,18.44 L220.21,18.84 L221.63,19.29 L223.03,19.77 L224.40,20.30 L225.76,20.88 L227.08,21.50 L228.38,22.18 L229.65,22.90 L230.89,23.67 L232.11,24.48 L233.31,25.33 L234.47,26.23 L235.62,27.16 L236.73,28.13 L237.83,29.14 L238.89,30.17 L239.93,31.24 L240.95,32.34 L241.95,33.47 L242.92,34.63 L243.86,35.81 L244.79,37.01 L245.69,38.24 L246.56,39.48 L247.42,40.74 L248.25,42.02 L249.06,43.31 L249.85,44.62 L250.61,45.93 L251.35,47.26 L252.08,48.59 L252.78,49.93 L253.46,51.27 L254.12,52.62 L254.75,53.97 L255.37,55.33 L255.97,56.70 L256.55,58.07 L257.12,59.45 L257.66,60.83 L258.18,62.21 L258.69,63.60 L259.18,65.00 L259.65,66.40 L260.10,67.80 L260.54,69.21 L260.96,70.62 L261.37,72.04 L261.76,73.46 L262.14,74.89 L262.50,76.32 L262.84,77.75 L263.17,79.19 L263.49,80.63 L263.79,82.08 L264.08,83.53 L264.36,84.98 L264.62,86.44 L264.88,87.89 L265.12,89.36 L265.35,90.82 L265.56,92.29 L265.77,93.76 L265.96,95.24 L266.15,96.71 L266.33,98.19 L266.49,99.68 L266.65,101.16 L266.79,102.65 L266.93,104.14 L267.06,105.63 L267.19,107.13 L267.30,108.62 L267.41,110.12 L267.51,111.62 L267.60,113.12 L267.69,114.63 L267.77,116.13 L267.84,117.64 L267.91,119.15 L267.98,120.66 L268.04,122.17 L268.10,123.68 L268.15,125.19 L268.19,126.71 L268.24,128.22 L268.28,129.74 L268.32,131.25 L268.36,132.77 L268.39,134.29 L268.42,135.81 L268.45,137.33 L268.48,138.84 L268.51,140.36 L268.54,141.88 L268.57,143.40 L268.60,144.92 L268.63,146.44 L268.66,147.96 L268.69,149.48 L268.73,150.99 L268.76,152.51 L268.80,154.03 L268.84,155.54 L268.88,157.06 L268.93,158.57 L268.98,160.09 L269.03,161.60 L269.09,163.11 L269.15,164.62 L269.22,166.13 L269.29,167.64 L269.37,169.14 L269.45,170.65 L269.54,172.15 L269.64,173.65 L269.74,175.15 L269.85,176.65 L269.96,178.14 L270.08,179.64 L270.20,181.13 L270.33,182.62 L270.46,184.11 L270.59,185.60 L270.73,187.09 L270.87,188.58 L271.02,190.06 L271.17,191.55 L271.33,193.03 L271.48,194.51 L271.64,196.00 L271.80,197.48 L271.97,198.96 L272.13,200.44 L272.30,201.92 L272.47,203.40 L272.64,204.87 L272.82,206.35 L272.99,207.83 L273.17,209.30 L273.34,210.78 L273.52,212.25 L273.69,213.73 L273.87,215.20 L274.05,216.68 L274.22,218.15 L274.40,219.62 L274.58,221.10 L274.75,222.57 L274.92,224.04 L275.10,225.52 L275.27,226.99 L275.43,228.46 L275.60,229.94 L275.77,231.41 L275.93,232.89 L276.09,234.36 L276.25,235.84 L276.40,237.31 L276.55,238.79 L276.70,240.26 L276.84,241.74 L276.98,243.22 L277.12,244.70 L277.26,246.18 L277.40,247.66 L277.54,249.14 L277.69,250.62 L277.83,252.10 L277.98,253.58 L278.13,255.07 L278.28,256.55 L278.45,258.04 L278.61,259.52 L278.79,261.01 L278.97,262.50 L279.17,263.99 L279.37,265.48 L279.58,266.98 L279.80,268.47 L280.04,269.97 L280.28,271.46 L280.53,272.96 L280.79,274.45 L281.06,275.95 L281.34,277.45 L281.62,278.94 L281.92,280.43 L282.21,281.93 L282.52,283.42 L282.82,284.90 L283.14,286.39 L283.45,287.87 L283.77,289.35 L284.10,290.83 L284.42,292.30 L284.75,293.77 L285.08,295.24 L285.42,296.70 L285.75,298.16 L286.08,299.61 L286.41,301.06 L286.75,302.50 L287.08,303.94 L287.41,305.36 L287.74,306.79 L288.06,308.20 L288.39,309.62 L288.72,311.03 L289.07,312.44 L289.43,313.85 L289.80,315.26 L290.19,316.68 L290.61,318.11 L291.06,319.55 L291.54,320.99 L292.05,322.45 L292.60,323.92 L293.19,325.41 L293.83,326.89 L294.52,328.37 L295.26,329.81 L296.06,331.21 L296.92,332.56 L297.84,333.83 L298.83,335.01 L299.90,336.09 L301.03,337.05 L302.24,337.88 L303.51,338.59 L304.82,339.18 L306.18,339.63 L307.57,339.96 L308.98,340.16 L310.40,340.22 L311.82,340.15 L313.22,339.95 L314.61,339.62 L315.97,339.15 L317.29,338.54 L318.56,337.80 L319.78,336.94 L320.96,335.97 L322.09,334.92 L323.17,333.79 L324.22,332.62 L325.23,331.40 L326.21,330.17 L327.15,328.92 L328.06,327.67 L328.93,326.40 L329.78,325.13 L330.60,323.84 L331.39,322.55 L332.15,321.24 L332.88,319.93 L333.59,318.61 L334.28,317.28 L334.95,315.94 L335.59,314.60 L336.21,313.25 L336.82,311.89 L337.40,310.52 L337.97,309.15 L338.53,307.78 L339.07,306.40 L339.59,305.01 L340.11,303.62 L340.61,302.22 L341.10,300.83 L341.59,299.42 L342.06,298.02 L342.53,296.60 L342.98,295.19 L343.43,293.77 L343.87,292.35 L344.30,290.93 L344.72,289.50 L345.13,288.07 L345.53,286.63 L345.93,285.19 L346.31,283.75 L346.69,282.31 L347.06,280.86 L347.43,279.41 L347.78,277.96 L348.13,276.50 L348.47,275.05 L348.81,273.59 L349.14,272.12 L349.46,270.66 L349.77,269.19 L350.08,267.72 L350.38,266.25 L350.67,264.78 L350.96,263.30 L351.25,261.82 L351.52,260.35 L351.79,258.86 L352.06,257.38 L352.32,255.90 L352.57,254.41 L352.83,252.93 L353.07,251.44 L353.31,249.95 L353.55,248.46 L353.78,246.97 L354.00,245.47 L354.23,243.98 L354.44,242.48 L354.66,240.99 L354.87,239.49 L355.08,238.00 L355.28,236.50 L355.48,235.00 L355.68,233.50 L355.87,232.01 L356.06,230.51 L356.25,229.01 L356.43,227.51 L356.62,226.01 L356.80,224.51 L356.97,223.01 L357.15,221.52 L357.32,220.02 L357.50,218.52 L357.67,217.02 L357.83,215.53 L358.00,214.03 L358.17,212.54 L358.33,211.04 L358.50,209.55 L358.66,208.05 L358.82,206.56 L358.98,205.07 L359.14,203.58 L359.31,202.10 L359.47,200.61 L359.63,199.12 L359.79,197.64 L359.95,196.16 L360.11,194.68 L360.27,193.20 L360.44,191.72 L360.60,190.25 L360.76,188.77 L360.93,187.30 L361.10,185.83 L361.27,184.37 L361.44,182.90 L361.61,181.44 L361.78,179.98 L361.96,178.52 L362.14,177.07 L362.32,175.61 L362.50,174.16 L362.69,172.71 L362.87,171.26 L363.06,169.81 L363.26,168.36 L363.46,166.91 L363.66,165.46 L363.87,164.00 L364.07,162.55 L364.29,161.09 L364.51,159.63 L364.73,158.16 L364.96,156.70 L365.19,155.22 L365.43,153.75 L365.67,152.27 L365.92,150.78 L366.17,149.28 L366.43,147.79 L366.70,146.28 L366.97,144.77 L367.24,143.25 L367.53,141.72 L367.82,140.18 L368.12,138.63 L368.42,137.08 L368.74,135.51 L369.06,133.94 L369.38,132.35 L369.72,130.76 L370.06,129.15 L370.41,127.53 L370.77,125.90 L371.15,124.27 L371.53,122.66 L371.95,121.12 L372.39,119.66 L372.86,118.33 L373.39,117.14 L373.96,116.14 L374.58,115.34 L375.27,114.78 L376.03,114.48 L376.85,114.45 L377.73,114.72 L378.61,115.25 L379.45,116.04 L380.23,117.06 L380.94,118.29 L381.60,119.68 L382.21,121.20 L382.78,122.81 L383.30,124.49 L383.80,126.19 L384.27,127.88 L384.71,129.52 L385.14,131.11 L385.55,132.66 L385.94,134.17 L386.33,135.65 L386.70,137.11 L387.07,138.54 L387.43,139.96 L387.78,141.37 L388.14,142.78 L388.50,144.19 L388.85,145.61 L389.21,147.03 L389.57,148.46 L389.94,149.89 L390.30,151.33 L390.67,152.77 L391.03,154.22 L391.40,155.67 L391.76,157.12 L392.13,158.58 L392.50,160.03 L392.87,161.49 L393.24,162.95 L393.61,164.41 L393.98,165.88 L394.34,167.34 L394.71,168.80 L395.08,170.27 L395.45,171.73 L395.82,173.19 L396.19,174.65 L396.56,176.11 L396.93,177.57 L397.31,179.02 L397.69,180.47 L398.07,181.92 L398.46,183.37 L398.85,184.82 L399.25,186.26 L399.66,187.70 L400.07,189.14 L400.49,190.57 L400.92,192.00 L401.36,193.43 L401.81,194.85 L402.27,196.26 L402.73,197.67 L403.22,199.08 L403.71,200.48 L404.21,201.88 L404.73,203.27 L405.26,204.65 L405.81,206.03 L406.37,207.40 L406.95,208.77 L407.54,210.12 L408.15,211.48 L408.78,212.82 L409.42,214.16 L410.09,215.49 L410.77,216.81 L411.47,218.12 L412.20,219.42 L412.94,220.72 L413.71,222.00 L414.50,223.28 L415.31,224.55 L416.15,225.81 L417.01,227.06 L417.89,228.30 L418.80,229.53 L419.74,230.74 L420.70,231.95 L421.69,233.14 L422.71,234.31 L423.76,235.46 L424.83,236.57 L425.93,237.64 L427.07,238.67 L428.23,239.65 L429.43,240.57 L430.66,241.44 L431.91,242.23 L433.21,242.96 L434.53,243.60 L435.89,244.16 L437.28,244.62 L438.68,244.95 L440.11,245.14 L441.54,245.14 L442.97,244.96 L444.40,244.62 L445.80,244.14 L447.19,243.53 L448.55,242.82 L449.86,242.03 L451.14,241.18 L452.36,240.29 L453.53,239.36 L454.65,238.40 L455.73,237.39 L456.76,236.35 L457.75,235.28 L458.69,234.17 L459.60,233.04 L460.46,231.87 L461.29,230.68 L462.08,229.45 L462.83,228.21 L463.56,226.93 L464.25,225.64 L464.91,224.32 L465.55,222.98 L466.15,221.62 L466.74,220.24 L467.30,218.85 L467.84,217.44 L468.35,216.01 L468.85,214.58 L469.33,213.13 L469.80,211.67 L470.26,210.20 L470.70,208.72 L471.13,207.24 L471.55,205.75 L471.96,204.25 L472.37,202.76 L472.77,201.26 L473.17,199.76 L473.57,198.27 L473.98,196.77 L474.38,195.28 L474.78,193.79 L475.20,192.31 L475.61,190.84 L476.04,189.38 L476.48,187.93 L476.92,186.48 L477.38,185.05 L477.84,183.62 L478.32,182.20 L478.79,180.79 L479.28,179.39 L479.77,177.99 L480.26,176.60 L480.76,175.21 L481.26,173.82 L481.76,172.43 L482.26,171.05 L482.77,169.67 L483.27,168.29 L483.77,166.91 L484.27,165.53 L484.77,164.15 L485.26,162.77 L485.75,161.38 L486.24,159.99 L486.71,158.59 L487.19,157.19 L487.66,155.79 L488.12,154.38 L488.58,152.97 L489.03,151.55 L489.48,150.14 L489.92,148.72 L490.36,147.29 L490.79,145.86 L491.22,144.43 L491.65,143.00 L492.07,141.56 L492.49,140.12 L492.91,138.68 L493.32,137.24 L493.73,135.80 L494.13,134.35 L494.54,132.90 L494.94,131.45 L495.34,130.00 L495.73,128.54 L496.12,127.09 L496.52,125.63 L496.91,124.18 L497.29,122.72 L497.68,121.26 L498.06,119.80 L498.45,118.34 L498.83,116.88 L499.21,115.42 L499.59,113.96 L499.97,112.50 L500.35,111.04 L500.73,109.58 L501.11,108.12 L501.49,106.67 L501.87,105.21 L502.25,103.75 L502.63,102.30 L503.01,100.84 L503.39,99.39 L503.78,97.94 L504.16,96.49 L504.54,95.04 L504.93,93.59 L505.32,92.15 L505.71,90.71 L506.10,89.27 L506.50,87.83 L506.89,86.40 L507.29,84.96 L507.70,83.54 L508.11,82.11 L508.53,80.69 L508.95,79.27 L509.38,77.85 L509.81,76.44 L510.25,75.03 L510.71,73.62 L511.17,72.22 L511.64,70.82 L512.13,69.42 L512.63,68.03 L513.15,66.64 L513.68,65.26 L514.22,63.87 L514.79,62.49 L515.37,61.12 L515.97,59.74 L516.59,58.37 L517.23,57.01 L517.90,55.64 L518.59,54.28 L519.30,52.93 L520.04,51.58 L520.80,50.24 L521.59,48.92 L522.42,47.62 L523.27,46.33 L524.15,45.08 L525.06,43.85 L526.00,42.65 L526.98,41.48 L528.00,40.35 L529.04,39.26 L530.12,38.21 L531.23,37.20 L532.38,36.24 L533.55,35.31 L534.75,34.42 L535.98,33.58 L537.23,32.78 L538.51,32.03 L539.81,31.31 L541.13,30.65 L542.48,30.03 L543.84,29.45 L545.22,28.92 L546.62,28.44 L548.04,28.00 L549.47,27.62 L550.91,27.28 L552.37,26.98 L553.84,26.73 L555.31,26.52 L556.80,26.34 L558.29,26.19 L559.79,26.07 L561.29,25.97 L562.80,25.88 L564.31,25.81 L565.82,25.75 L567.33,25.69 L568.84,25.63 L570.35,25.58 L571.86,25.54 L573.37,25.50 L574.88,25.47 L576.39,25.44 L577.90,25.42 L579.40,25.40 L580.91,25.39 L582.41,25.39 L583.92,25.40 L585.42,25.41 L586.92,25.44 L588.42,25.47 L589.92,25.51 L591.42,25.56 L592.92,25.62 L594.42,25.70 L595.91,25.78 L597.40,25.87 L598.90,25.98 L600.39,26.09 L601.88,26.22 L603.37,26.36 L604.85,26.52 L606.34,26.68 L607.82,26.85 L609.31,27.04 L610.79,27.23 L612.27,27.44 L613.75,27.65 L615.22,27.88 L616.70,28.11 L618.17,28.35 L619.65,28.61 L621.12,28.87 L622.59,29.14 L624.06,29.42 L625.53,29.70 L627.00,29.99 L628.46,30.30 L629.93,30.60 L631.39,30.92 L632.86,31.24 L634.32,31.57 L635.78,31.90 L637.24,32.25 L638.70,32.59 L640.15,32.94 L641.61,33.30 L643.06,33.67 L644.52,34.03 L645.97,34.41 L647.42,34.78 L648.87,35.16 L650.32,35.55 L651.77,35.94 L653.22,36.33 L654.67,36.72 L656.11,37.12 L657.56,37.52 L659.00,37.93 L660.44,38.33 L661.88,38.74 L663.32,39.15 L664.77,39.56 L666.20,39.97 L667.64,40.39 L669.08,40.80 L670.52,41.21 L671.95,41.63 L673.39,42.04 L674.82,42.46 L676.25,42.87 L677.69,43.29 L679.12,43.70" stroke="#008080" stroke-width="2.6" fill="none" stroke-linejoin="round" stroke-linecap="round"/>
<path d="M157.43,16.68 L158.86,16.65 L160.30,16.65 L161.75,16.67 L163.21,16.71 L164.67,16.76 L166.15,16.84 L167.63,16.93 L169.12,17.03 L170.62,17.14 L172.12,17.26 L173.63,17.39 L175.14,17.52 L176.66,17.66 L178.18,17.80 L179.70,17.94 L181.22,18.07 L182.75,18.20 L184.27,18.33 L185.80,18.45 L187.32,18.56 L188.85,18.65 L190.37,18.74 L191.89,18.82 L193.41,18.89 L194.92,18.97 L196.43,19.05 L197.93,19.14 L199.43,19.23 L200.93,19.35 L202.41,19.48 L203.89,19.63 L205.36,19.81 L206.83,20.02 L208.28,20.27 L209.72,20.55 L211.16,20.87 L212.58,21.23 L213.99,21.65 L215.39,22.12 L216.78,22.64 L218.15,23.21 L219.50,23.84 L220.84,24.51 L222.16,25.24 L223.46,26.01 L224.74,26.82 L225.99,27.68 L227.22,28.57 L228.42,29.51 L229.59,30.48 L230.74,31.49 L231.85,32.54 L232.93,33.61 L233.98,34.71 L234.98,35.85 L235.96,37.00 L236.89,38.19 L237.78,39.39 L238.63,40.62 L239.44,41.86 L240.21,43.12 L240.93,44.41 L241.62,45.70 L242.27,47.02 L242.89,48.35 L243.47,49.69 L244.01,51.05 L244.53,52.43 L245.02,53.81 L245.47,55.21 L245.90,56.62 L246.31,58.05 L246.69,59.48 L247.05,60.92 L247.38,62.37 L247.70,63.83 L248.00,65.30 L248.28,66.77 L248.55,68.25 L248.80,69.74 L249.04,71.23 L249.27,72.73 L249.49,74.23 L249.70,75.73 L249.90,77.24 L250.10,78.74 L250.30,80.25 L250.49,81.76 L250.68,83.27 L250.88,84.77 L251.07,86.28 L251.26,87.79 L251.45,89.29 L251.63,90.80 L251.82,92.30 L252.00,93.80 L252.18,95.31 L252.35,96.81 L252.52,98.31 L252.69,99.81 L252.85,101.31 L253.00,102.81 L253.15,104.31 L253.29,105.81 L253.43,107.31 L253.55,108.80 L253.67,110.30 L253.78,111.80 L253.89,113.29 L253.98,114.79 L254.07,116.28 L254.15,117.78 L254.23,119.27 L254.30,120.76 L254.37,122.26 L254.43,123.75 L254.49,125.24 L254.54,126.73 L254.59,128.22 L254.64,129.71 L254.69,131.20 L254.74,132.69 L254.79,134.18 L254.83,135.67 L254.88,137.16 L254.93,138.65 L254.98,140.14 L255.03,141.63 L255.09,143.12 L255.15,144.60 L255.21,146.09 L255.27,147.58 L255.34,149.06 L255.42,150.55 L255.50,152.04 L255.59,153.52 L255.68,155.01 L255.79,156.50 L255.90,157.98 L256.01,159.47 L256.14,160.95 L256.28,162.44 L256.42,163.92 L256.58,165.41 L256.75,166.89 L256.93,168.38 L257.12,169.86 L257.32,171.34 L257.54,172.83 L257.77,174.31 L258.01,175.80 L258.26,177.28 L258.52,178.76 L258.80,180.24 L259.09,181.72 L259.39,183.20 L259.70,184.68 L260.02,186.16 L260.35,187.63 L260.70,189.10 L261.05,190.58 L261.42,192.05 L261.80,193.51 L262.18,194.98 L262.58,196.44 L262.99,197.91 L263.41,199.37 L263.84,200.82 L264.28,202.28 L264.73,203.73 L265.18,205.17 L265.65,206.62 L266.13,208.06 L266.61,209.50 L267.10,210.93 L267.59,212.37 L268.09,213.79 L268.59,215.22 L269.09,216.64 L269.59,218.05 L270.09,219.46 L270.59,220.87 L271.09,222.27 L271.57,223.67 L272.06,225.07 L272.53,226.46 L273.00,227.84 L273.47,229.22 L273.94,230.59 L274.43,231.96 L274.92,233.32 L275.44,234.68 L275.98,236.03 L276.56,237.38 L277.17,238.72 L277.82,240.05 L278.52,241.38 L279.27,242.70 L280.07,244.00 L280.92,245.29 L281.83,246.54 L282.78,247.76 L283.78,248.94 L284.83,250.06 L285.93,251.13 L287.07,252.13 L288.26,253.06 L289.49,253.91 L290.77,254.68 L292.09,255.35 L293.46,255.92 L294.87,256.38 L296.32,256.73 L297.79,256.98 L299.30,257.13 L300.82,257.19 L302.36,257.16 L303.90,257.04 L305.45,256.85 L306.98,256.58 L308.51,256.24 L310.01,255.84 L311.49,255.38 L312.94,254.86 L314.35,254.30 L315.73,253.69 L317.07,253.02 L318.38,252.32 L319.65,251.57 L320.88,250.77 L322.09,249.94 L323.26,249.06 L324.40,248.14 L325.51,247.19 L326.58,246.20 L327.63,245.18 L328.65,244.12 L329.64,243.04 L330.60,241.92 L331.53,240.77 L332.44,239.59 L333.32,238.39 L334.18,237.16 L335.00,235.91 L335.81,234.64 L336.59,233.35 L337.35,232.04 L338.08,230.71 L338.80,229.36 L339.49,228.00 L340.16,226.62 L340.81,225.24 L341.44,223.84 L342.05,222.43 L342.65,221.02 L343.22,219.59 L343.78,218.16 L344.32,216.73 L344.85,215.30 L345.36,213.86 L345.86,212.43 L346.34,210.99 L346.81,209.56 L347.27,208.13 L347.71,206.70 L348.14,205.27 L348.56,203.84 L348.97,202.41 L349.36,200.98 L349.74,199.55 L350.11,198.12 L350.47,196.69 L350.82,195.26 L351.16,193.82 L351.49,192.39 L351.81,190.96 L352.13,189.52 L352.43,188.09 L352.72,186.65 L353.01,185.21 L353.28,183.77 L353.55,182.32 L353.82,180.88 L354.07,179.43 L354.32,177.98 L354.57,176.53 L354.80,175.07 L355.03,173.61 L355.26,172.15 L355.48,170.68 L355.70,169.21 L355.91,167.74 L356.12,166.26 L356.32,164.77 L356.52,163.29 L356.72,161.80 L356.91,160.30 L357.11,158.80 L357.30,157.30 L357.49,155.78 L357.67,154.27 L357.86,152.75 L358.04,151.22 L358.23,149.69 L358.41,148.15 L358.60,146.60 L358.78,145.05 L358.98,143.50 L359.17,141.95 L359.38,140.40 L359.60,138.85 L359.83,137.31 L360.07,135.78 L360.33,134.27 L360.62,132.76 L360.92,131.27 L361.25,129.79 L361.60,128.34 L361.98,126.90 L362.39,125.49 L362.84,124.11 L363.32,122.75 L363.83,121.43 L364.39,120.13 L364.98,118.87 L365.62,117.65 L366.30,116.46 L367.04,115.32 L367.81,114.26 L368.62,113.43 L369.45,113.04 L370.28,113.18 L371.09,113.76 L371.86,114.66 L372.60,115.75 L373.29,116.99 L373.95,118.35 L374.58,119.81 L375.17,121.34 L375.75,122.91 L376.32,124.51 L376.87,126.10 L377.42,127.67 L377.97,129.23 L378.51,130.77 L379.05,132.30 L379.58,133.80 L380.12,135.30 L380.65,136.77 L381.18,138.24 L381.72,139.69 L382.25,141.12 L382.79,142.54 L383.33,143.95 L383.87,145.35 L384.42,146.73 L384.97,148.11 L385.53,149.47 L386.09,150.82 L386.66,152.17 L387.24,153.50 L387.83,154.82 L388.42,156.14 L389.03,157.45 L389.65,158.75 L390.28,160.04 L390.92,161.33 L391.57,162.61 L392.24,163.89 L392.92,165.16 L393.61,166.42 L394.33,167.69 L395.05,168.95 L395.80,170.20 L396.56,171.45 L397.34,172.70 L398.15,173.95 L398.97,175.20 L399.81,176.45 L400.67,177.69 L401.56,178.94 L402.47,180.18 L403.40,181.42 L404.35,182.65 L405.33,183.87 L406.33,185.07 L407.36,186.25 L408.40,187.42 L409.48,188.56 L410.57,189.67 L411.69,190.75 L412.84,191.80 L414.01,192.81 L415.21,193.78 L416.43,194.71 L417.67,195.60 L418.94,196.44 L420.24,197.22 L421.57,197.95 L422.92,198.63 L424.29,199.24 L425.70,199.79 L427.13,200.28 L428.58,200.69 L430.05,201.04 L431.54,201.33 L433.04,201.54 L434.54,201.69 L436.04,201.77 L437.54,201.78 L439.04,201.72 L440.53,201.60 L442.00,201.40 L443.45,201.14 L444.87,200.80 L446.28,200.40 L447.64,199.92 L448.98,199.38 L450.27,198.76 L451.52,198.08 L452.73,197.32 L453.88,196.50 L455.00,195.61 L456.08,194.67 L457.12,193.67 L458.12,192.61 L459.08,191.51 L460.02,190.36 L460.92,189.17 L461.79,187.94 L462.63,186.68 L463.45,185.39 L464.25,184.06 L465.02,182.72 L465.78,181.35 L466.52,179.96 L467.24,178.56 L467.94,177.15 L468.64,175.73 L469.32,174.31 L470.00,172.89 L470.67,171.47 L471.33,170.06 L471.99,168.66 L472.64,167.26 L473.29,165.87 L473.94,164.48 L474.57,163.09 L475.21,161.71 L475.84,160.34 L476.46,158.96 L477.08,157.59 L477.69,156.22 L478.30,154.86 L478.90,153.49 L479.49,152.13 L480.08,150.77 L480.67,149.40 L481.24,148.04 L481.82,146.68 L482.38,145.31 L482.94,143.95 L483.50,142.58 L484.04,141.21 L484.59,139.84 L485.12,138.46 L485.65,137.08 L486.18,135.70 L486.70,134.32 L487.21,132.93 L487.72,131.54 L488.22,130.15 L488.72,128.75 L489.22,127.36 L489.71,125.96 L490.20,124.56 L490.69,123.16 L491.17,121.75 L491.66,120.35 L492.13,118.94 L492.61,117.53 L493.08,116.12 L493.56,114.71 L494.03,113.29 L494.50,111.88 L494.97,110.46 L495.44,109.04 L495.91,107.63 L496.38,106.21 L496.85,104.79 L497.32,103.37 L497.79,101.95 L498.26,100.52 L498.74,99.10 L499.21,97.68 L499.69,96.26 L500.17,94.83 L500.65,93.41 L501.13,91.99 L501.62,90.56 L502.11,89.14 L502.60,87.72 L503.10,86.30 L503.60,84.87 L504.11,83.45 L504.62,82.03 L505.14,80.61 L505.66,79.19 L506.18,77.77 L506.71,76.35 L507.25,74.94 L507.79,73.52 L508.34,72.11 L508.90,70.70 L509.46,69.28 L510.03,67.87 L510.61,66.46 L511.20,65.06 L511.79,63.65 L512.40,62.25 L513.01,60.85 L513.63,59.45 L514.25,58.05 L514.89,56.65 L515.54,55.26 L516.20,53.87 L516.87,52.49 L517.56,51.12 L518.26,49.77 L518.98,48.42 L519.72,47.10 L520.48,45.80 L521.26,44.52 L522.07,43.26 L522.90,42.04 L523.76,40.84 L524.65,39.69 L525.57,38.56 L526.52,37.48 L527.51,36.44 L528.53,35.45 L529.59,34.50 L530.69,33.61 L531.83,32.76 L533.01,31.98 L534.23,31.24 L535.50,30.57 L536.79,29.94 L538.13,29.36 L539.49,28.83 L540.89,28.34 L542.31,27.89 L543.76,27.48 L545.22,27.11 L546.71,26.77 L548.21,26.47 L549.73,26.19 L551.26,25.94 L552.80,25.71 L554.34,25.50 L555.89,25.32 L557.44,25.15 L558.99,24.99 L560.54,24.85 L562.08,24.71 L563.61,24.59 L565.15,24.48 L566.67,24.38 L568.20,24.29 L569.72,24.20 L571.23,24.13 L572.75,24.07 L574.26,24.01 L575.76,23.97 L577.26,23.94 L578.76,23.91 L580.26,23.90 L581.75,23.89 L583.25,23.89 L584.73,23.90 L586.22,23.92 L587.71,23.95 L589.19,23.99 L590.67,24.03 L592.15,24.09 L593.63,24.15 L595.11,24.22 L596.58,24.30 L598.06,24.38 L599.53,24.47 L601.01,24.58 L602.48,24.69 L603.96,24.80 L605.43,24.93 L606.90,25.06 L608.38,25.19 L609.85,25.34 L611.33,25.49 L612.81,25.65 L614.28,25.82 L615.76,25.99 L617.24,26.17 L618.72,26.35 L620.21,26.55 L621.69,26.74 L623.18,26.95 L624.66,27.16 L626.15,27.38 L627.64,27.60 L629.13,27.82 L630.62,28.06 L632.12,28.30 L633.61,28.54 L635.10,28.79 L636.59,29.04 L638.08,29.30 L639.58,29.57 L641.07,29.84 L642.56,30.11 L644.05,30.39 L645.54,30.67 L647.02,30.96 L648.51,31.25 L649.99,31.55 L651.48,31.85 L652.96,32.15 L654.43,32.46 L655.91,32.77 L657.38,33.09 L658.85,33.41 L660.32,33.73 L661.79,34.06 L663.25,34.39 L664.71,34.72 L666.16,35.06 L667.62,35.40 L669.06,35.74 L670.51,36.08 L671.95,36.43 L673.38,36.78 L674.81,37.13 L676.24,37.48 L677.66,37.84 L679.08,38.20" stroke="#ff00ff" stroke-width="2.6" fill="none" stroke-linejoin="round" stroke-linecap="round"/>
<path d="M157.36,8.44 L158.83,8.36 L160.30,8.28 L161.77,8.22 L163.25,8.17 L164.73,8.13 L166.22,8.10 L167.71,8.07 L169.20,8.06 L170.70,8.06 L172.19,8.07 L173.69,8.09 L175.20,8.13 L176.70,8.17 L178.20,8.22 L179.71,8.28 L181.22,8.36 L182.72,8.44 L184.23,8.54 L185.74,8.64 L187.25,8.76 L188.75,8.89 L190.26,9.02 L191.76,9.17 L193.26,9.33 L194.76,9.50 L196.26,9.68 L197.76,9.88 L199.25,10.08 L200.75,10.29 L202.23,10.52 L203.72,10.76 L205.20,11.00 L206.68,11.26 L208.15,11.53 L209.62,11.81 L211.08,12.10 L212.54,12.41 L213.99,12.74 L215.42,13.09 L216.85,13.47 L218.26,13.89 L219.66,14.34 L221.04,14.84 L222.40,15.39 L223.73,15.99 L225.05,16.65 L226.34,17.38 L227.60,18.17 L228.83,19.03 L230.03,19.97 L231.20,20.97 L232.33,22.03 L233.43,23.14 L234.49,24.29 L235.50,25.47 L236.48,26.68 L237.41,27.91 L238.29,29.15 L239.13,30.41 L239.93,31.67 L240.69,32.95 L241.41,34.23 L242.10,35.52 L242.76,36.82 L243.39,38.13 L244.00,39.44 L244.58,40.76 L245.15,42.09 L245.70,43.43 L246.25,44.77 L246.78,46.11 L247.30,47.46 L247.83,48.82 L248.35,50.18 L248.87,51.54 L249.40,52.91 L249.94,54.28 L250.49,55.65 L251.06,57.03 L251.64,58.40 L252.25,59.78 L252.88,61.16 L253.53,62.54 L254.21,63.92 L254.93,65.30 L255.68,66.68 L256.46,68.05 L257.27,69.43 L258.08,70.81 L258.89,72.19 L259.68,73.57 L260.43,74.95 L261.15,76.33 L261.81,77.71 L262.40,79.10 L262.92,80.48 L263.36,81.87 L263.74,83.27 L264.06,84.66 L264.33,86.07 L264.55,87.47 L264.74,88.88 L264.89,90.30 L265.02,91.72 L265.12,93.15 L265.22,94.58 L265.31,96.02 L265.40,97.47 L265.50,98.92 L265.60,100.38 L265.71,101.85 L265.82,103.32 L265.94,104.80 L266.06,106.28 L266.20,107.77 L266.33,109.26 L266.48,110.75 L266.64,112.25 L266.80,113.76 L266.97,115.26 L267.15,116.77 L267.35,118.29 L267.55,119.80 L267.76,121.31 L267.98,122.83 L268.22,124.35 L268.46,125.87 L268.72,127.38 L268.99,128.90 L269.27,130.42 L269.57,131.94 L269.88,133.45 L270.20,134.97 L270.54,136.48 L270.90,137.99 L271.26,139.50 L271.63,141.00 L272.01,142.51 L272.40,144.00 L272.78,145.50 L273.16,146.99 L273.54,148.47 L273.91,149.95 L274.27,151.43 L274.62,152.90 L274.95,154.36 L275.27,155.82 L275.57,157.27 L275.87,158.71 L276.16,160.14 L276.45,161.57 L276.74,162.99 L277.05,164.40 L277.36,165.80 L277.70,167.20 L278.05,168.58 L278.43,169.95 L278.83,171.32 L279.27,172.67 L279.75,174.01 L280.26,175.34 L280.82,176.66 L281.43,177.97 L282.10,179.26 L282.82,180.54 L283.60,181.81 L284.45,183.07 L285.35,184.30 L286.32,185.51 L287.34,186.68 L288.42,187.80 L289.54,188.88 L290.71,189.89 L291.92,190.84 L293.16,191.72 L294.45,192.52 L295.76,193.22 L297.11,193.83 L298.48,194.34 L299.87,194.74 L301.27,195.01 L302.70,195.16 L304.13,195.19 L305.57,195.10 L307.02,194.90 L308.47,194.59 L309.92,194.20 L311.36,193.71 L312.79,193.14 L314.21,192.50 L315.61,191.80 L317.00,191.03 L318.36,190.21 L319.70,189.34 L321.00,188.44 L322.28,187.51 L323.52,186.54 L324.72,185.56 L325.90,184.55 L327.03,183.52 L328.14,182.47 L329.21,181.39 L330.25,180.30 L331.26,179.18 L332.24,178.05 L333.19,176.89 L334.11,175.72 L335.00,174.53 L335.86,173.32 L336.70,172.09 L337.51,170.85 L338.30,169.59 L339.06,168.32 L339.79,167.03 L340.50,165.73 L341.19,164.42 L341.86,163.09 L342.50,161.76 L343.12,160.41 L343.73,159.05 L344.31,157.68 L344.87,156.30 L345.42,154.91 L345.94,153.51 L346.45,152.11 L346.94,150.70 L347.42,149.28 L347.88,147.86 L348.33,146.43 L348.76,145.00 L349.18,143.56 L349.59,142.12 L349.98,140.68 L350.36,139.24 L350.74,137.79 L351.10,136.34 L351.45,134.89 L351.79,133.44 L352.13,131.98 L352.46,130.53 L352.78,129.07 L353.10,127.61 L353.41,126.15 L353.71,124.69 L354.01,123.22 L354.31,121.76 L354.61,120.30 L354.90,118.83 L355.19,117.36 L355.48,115.90 L355.78,114.43 L356.07,112.97 L356.36,111.50 L356.66,110.03 L356.95,108.57 L357.25,107.10 L357.56,105.64 L357.87,104.17 L358.18,102.71 L358.51,101.24 L358.83,99.78 L359.17,98.32 L359.51,96.86 L359.86,95.40 L360.22,93.95 L360.60,92.49 L360.98,91.04 L361.37,89.59 L361.78,88.14 L362.19,86.69 L362.62,85.25 L363.07,83.80 L363.53,82.36 L364.01,80.93 L364.50,79.49 L365.01,78.06 L365.53,76.63 L366.07,75.21 L366.64,73.79 L367.22,72.37 L367.82,70.95 L368.44,69.54 L369.09,68.13 L369.76,66.74 L370.46,65.38 L371.20,64.04 L371.97,62.76 L372.80,61.54 L373.67,60.40 L374.61,59.45 L375.60,58.85 L376.66,58.73 L377.77,59.16 L378.91,60.00 L380.02,61.12 L381.07,62.33 L382.03,63.59 L382.91,64.86 L383.73,66.16 L384.48,67.49 L385.17,68.83 L385.81,70.19 L386.41,71.57 L386.98,72.96 L387.52,74.36 L388.03,75.77 L388.53,77.18 L389.03,78.61 L389.52,80.03 L390.02,81.45 L390.52,82.88 L391.03,84.30 L391.54,85.73 L392.06,87.15 L392.59,88.57 L393.12,89.99 L393.65,91.40 L394.20,92.81 L394.75,94.21 L395.30,95.61 L395.87,97.00 L396.44,98.39 L397.02,99.77 L397.60,101.14 L398.20,102.50 L398.80,103.85 L399.41,105.20 L400.03,106.53 L400.66,107.86 L401.29,109.17 L401.94,110.48 L402.59,111.79 L403.25,113.09 L403.93,114.38 L404.61,115.67 L405.30,116.96 L406.01,118.24 L406.72,119.53 L407.45,120.81 L408.18,122.10 L408.93,123.38 L409.68,124.67 L410.45,125.96 L411.23,127.26 L412.03,128.56 L412.83,129.87 L413.65,131.18 L414.48,132.50 L415.32,133.82 L416.18,135.14 L417.06,136.45 L417.95,137.75 L418.87,139.03 L419.80,140.29 L420.76,141.52 L421.75,142.72 L422.76,143.88 L423.80,145.00 L424.87,146.07 L425.97,147.09 L427.10,148.06 L428.26,148.96 L429.46,149.80 L430.70,150.56 L431.98,151.25 L433.30,151.85 L434.65,152.37 L436.04,152.80 L437.46,153.15 L438.89,153.41 L440.34,153.58 L441.80,153.67 L443.26,153.66 L444.71,153.56 L446.15,153.37 L447.57,153.09 L448.97,152.72 L450.34,152.25 L451.67,151.69 L452.97,151.03 L454.22,150.29 L455.43,149.46 L456.60,148.56 L457.73,147.58 L458.83,146.55 L459.90,145.45 L460.93,144.30 L461.93,143.11 L462.89,141.87 L463.83,140.60 L464.74,139.30 L465.61,137.98 L466.47,136.64 L467.29,135.30 L468.10,133.94 L468.88,132.59 L469.63,131.24 L470.37,129.89 L471.09,128.55 L471.79,127.20 L472.47,125.86 L473.13,124.51 L473.79,123.17 L474.42,121.83 L475.05,120.48 L475.66,119.14 L476.26,117.80 L476.86,116.46 L477.44,115.12 L478.02,113.77 L478.60,112.43 L479.17,111.09 L479.73,109.74 L480.30,108.40 L480.86,107.05 L481.43,105.70 L482.00,104.35 L482.56,103.00 L483.14,101.65 L483.72,100.29 L484.30,98.94 L484.89,97.58 L485.49,96.22 L486.09,94.85 L486.70,93.49 L487.30,92.12 L487.92,90.75 L488.53,89.38 L489.15,88.01 L489.76,86.63 L490.38,85.25 L491.00,83.87 L491.62,82.49 L492.23,81.10 L492.84,79.72 L493.45,78.33 L494.06,76.94 L494.66,75.55 L495.26,74.15 L495.85,72.75 L496.44,71.35 L497.01,69.95 L497.59,68.55 L498.15,67.14 L498.70,65.74 L499.25,64.33 L499.79,62.91 L500.31,61.50 L500.83,60.09 L501.35,58.67 L501.87,57.26 L502.38,55.85 L502.91,54.45 L503.43,53.05 L503.97,51.65 L504.52,50.27 L505.08,48.89 L505.66,47.52 L506.26,46.16 L506.88,44.81 L507.52,43.48 L508.19,42.16 L508.89,40.85 L509.62,39.56 L510.38,38.29 L511.19,37.03 L512.03,35.80 L512.91,34.58 L513.84,33.38 L514.81,32.21 L515.82,31.07 L516.87,29.96 L517.97,28.89 L519.10,27.87 L520.26,26.89 L521.46,25.97 L522.70,25.10 L523.96,24.30 L525.25,23.57 L526.57,22.90 L527.91,22.32 L529.28,21.82 L530.67,21.40 L532.08,21.06 L533.51,20.79 L534.95,20.60 L536.41,20.46 L537.89,20.39 L539.37,20.36 L540.87,20.38 L542.37,20.43 L543.88,20.52 L545.39,20.64 L546.91,20.77 L548.43,20.92 L549.94,21.08 L551.46,21.25 L552.97,21.41 L554.48,21.58 L555.99,21.75 L557.50,21.91 L559.01,22.08 L560.51,22.24 L562.02,22.39 L563.52,22.54 L565.02,22.69 L566.51,22.83 L568.01,22.96 L569.51,23.07 L571.00,23.18 L572.49,23.28 L573.99,23.36 L575.48,23.44 L576.97,23.49 L578.46,23.53 L579.95,23.55 L581.43,23.56 L582.92,23.54 L584.41,23.51 L585.89,23.46 L587.38,23.39 L588.86,23.30 L590.35,23.19 L591.83,23.07 L593.31,22.94 L594.80,22.79 L596.28,22.63 L597.76,22.46 L599.25,22.28 L600.73,22.09 L602.21,21.89 L603.70,21.69 L605.18,21.47 L606.67,21.26 L608.15,21.03 L609.64,20.81 L611.12,20.58 L612.61,20.35 L614.09,20.12 L615.58,19.89 L617.07,19.66 L618.56,19.43 L620.05,19.21 L621.54,18.99 L623.03,18.78 L624.53,18.57 L626.02,18.37 L627.51,18.18 L629.01,17.99 L630.50,17.82 L632.00,17.65 L633.49,17.50 L634.99,17.35 L636.48,17.22 L637.98,17.11 L639.47,17.00 L640.96,16.92 L642.45,16.85 L643.95,16.79 L645.44,16.75 L646.92,16.74 L648.41,16.74 L649.90,16.76 L651.38,16.80 L652.87,16.87 L654.35,16.95 L655.83,17.06 L657.30,17.20 L658.78,17.36 L660.25,17.54 L661.72,17.76 L663.19,18.00 L664.66,18.27 L666.12,18.57 L667.58,18.90 L669.04,19.26 L670.49,19.65 L671.94,20.07 L673.39,20.53 L674.83,21.02 L676.27,21.55 L677.71,22.12 L679.14,22.72" stroke="#808000" stroke-width="2.6" fill="none" stroke-linejoin="round" stroke-linecap="round"/>
<path d="M110.30,0 V385.00 H729" stroke="#000" stroke-width="1.90" fill="none"/>
<line x1="105.80" y1="5.05" x2="110.30" y2="5.05" stroke="#000" stroke-width="1.80"/>
<line x1="101.80" y1="41.25" x2="110.30" y2="41.25" stroke="#000" stroke-width="1.80"/>
<line x1="105.80" y1="77.45" x2="110.30" y2="77.45" stroke="#000" stroke-width="1.80"/>
<line x1="101.80" y1="113.65" x2="110.30" y2="113.65" stroke="#000" stroke-width="1.80"/>
<line x1="105.80" y1="149.85" x2="110.30" y2="149.85" stroke="#000" stroke-width="1.80"/>
<line x1="101.80" y1="186.05" x2="110.30" y2="186.05" stroke="#000" stroke-width="1.80"/>
<line x1="105.80" y1="222.25" x2="110.30" y2="222.25" stroke="#000" stroke-width="1.80"/>
<line x1="101.80" y1="258.45" x2="110.30" y2="258.45" stroke="#000" stroke-width="1.80"/>
<line x1="105.80" y1="294.65" x2="110.30" y2="294.65" stroke="#000" stroke-width="1.80"/>
<line x1="101.80" y1="330.85" x2="110.30" y2="330.85" stroke="#000" stroke-width="1.80"/>
<line x1="105.80" y1="367.05" x2="110.30" y2="367.05" stroke="#000" stroke-width="1.80"/>
<line x1="110.40" y1="385.00" x2="110.40" y2="392.90" stroke="#000" stroke-width="1.80"/>
<line x1="157.93" y1="385.00" x2="157.93" y2="388.50" stroke="#000" stroke-width="1.80"/>
<line x1="205.46" y1="385.00" x2="205.46" y2="392.90" stroke="#000" stroke-width="1.80"/>
<line x1="252.99" y1="385.00" x2="252.99" y2="388.50" stroke="#000" stroke-width="1.80"/>
<line x1="300.52" y1="385.00" x2="300.52" y2="392.90" stroke="#000" stroke-width="1.80"/>
<line x1="348.05" y1="385.00" x2="348.05" y2="388.50" stroke="#000" stroke-width="1.80"/>
<line x1="395.58" y1="385.00" x2="395.58" y2="392.90" stroke="#000" stroke-width="1.80"/>
<line x1="443.11" y1="385.00" x2="443.11" y2="388.50" stroke="#000" stroke-width="1.80"/>
<line x1="490.64" y1="385.00" x2="490.64" y2="392.90" stroke="#000" stroke-width="1.80"/>
<line x1="538.17" y1="385.00" x2="538.17" y2="388.50" stroke="#000" stroke-width="1.80"/>
<line x1="585.70" y1="385.00" x2="585.70" y2="392.90" stroke="#000" stroke-width="1.80"/>
<line x1="633.23" y1="385.00" x2="633.23" y2="388.50" stroke="#000" stroke-width="1.80"/>
<line x1="680.76" y1="385.00" x2="680.76" y2="392.90" stroke="#000" stroke-width="1.80"/>
<line x1="728.29" y1="385.00" x2="728.29" y2="388.50" stroke="#000" stroke-width="1.80"/>
<text transform="translate(63.26,47.00) rotate(0.05) scale(0.940,1)" font-size="22.30" font-weight="bold" fill="#000" letter-spacing="1.38">-20</text>
<text transform="translate(63.06,119.40) rotate(0.05) scale(0.940,1)" font-size="22.30" font-weight="bold" fill="#000" letter-spacing="1.48">-40</text>
<text transform="translate(63.06,191.80) rotate(0.05) scale(0.940,1)" font-size="22.30" font-weight="bold" fill="#000" letter-spacing="1.48">-60</text>
<text transform="translate(63.06,264.20) rotate(0.05) scale(0.940,1)" font-size="22.30" font-weight="bold" fill="#000" letter-spacing="1.48">-80</text>
<text transform="translate(50.36,336.60) rotate(0.05) scale(0.940,1)" font-size="22.30" font-weight="bold" fill="#000" letter-spacing="1.37">-100</text>
<rect x="59.05" y="333.29" width="4.23" height="4.01" fill="#fff"/>
<rect x="66.55" y="333.29" width="4.13" height="4.01" fill="#fff"/>
<text transform="translate(93.61,412.60) rotate(0.05) scale(0.940,1)" font-size="22.30" font-weight="bold" fill="#000" letter-spacing="1.51">0.0</text>
<text transform="translate(184.77,412.60) rotate(0.05) scale(0.940,1)" font-size="22.30" font-weight="bold" fill="#000" letter-spacing="1.30">-0.2</text>
<text transform="translate(279.83,412.60) rotate(0.05) scale(0.940,1)" font-size="22.30" font-weight="bold" fill="#000" letter-spacing="1.04">-0.4</text>
<text transform="translate(374.89,412.60) rotate(0.05) scale(0.940,1)" font-size="22.30" font-weight="bold" fill="#000" letter-spacing="1.26">-0.6</text>
<text transform="translate(469.95,412.60) rotate(0.05) scale(0.940,1)" font-size="22.30" font-weight="bold" fill="#000" letter-spacing="1.23">-0.8</text>
<text transform="translate(564.96,412.60) rotate(0.05) scale(0.940,1)" font-size="22.30" font-weight="bold" fill="#000" letter-spacing="1.34">-1.0</text>
<rect x="573.62" y="409.29" width="4.23" height="4.01" fill="#fff"/>
<rect x="581.12" y="409.29" width="4.13" height="4.01" fill="#fff"/>
<text transform="translate(660.02,412.60) rotate(0.05) scale(0.940,1)" font-size="22.30" font-weight="bold" fill="#000" letter-spacing="1.34">-1.2</text>
<rect x="668.68" y="409.29" width="4.23" height="4.01" fill="#fff"/>
<rect x="676.18" y="409.29" width="4.13" height="4.01" fill="#fff"/>
<text transform="translate(331.40,448.60) rotate(0.05) scale(1.000,1)" font-size="20.70" font-weight="bold" fill="#000" letter-spacing="1.27">E(V) vs Ag/AgCl</text>
<text transform="translate(18.2,209.7) rotate(-89.95)" font-size="21.8" font-weight="bold">I<tspan dy="7.8" font-size="20">a</tspan><tspan dy="-7.8">/</tspan><tspan font-weight="normal" font-size="18" dx="1">μ</tspan><tspan dx="1">A</tspan></text>
<text transform="translate(264.72,342.20) rotate(0.05) scale(1.000,1)" font-size="20.40" font-weight="bold" fill="#000" letter-spacing="0.63">Pb</text>
<text transform="translate(404.88,275.40) rotate(0.05) scale(1.000,1)" font-size="20.40" font-weight="bold" fill="#000" letter-spacing="0.96">Cd</text>
<rect x="567.50" y="40.50" width="83.50" height="127.30" fill="#fff" stroke="#6c6c6c" stroke-width="1.10"/>
<line x1="569.50" y1="52.10" x2="606.00" y2="52.10" stroke="#000000" stroke-width="3.00" stroke-linecap="round"/>
<text transform="translate(610.32,57.30) rotate(0.05) scale(1.000,1)" font-size="17.00" font-weight="bold" fill="#000" letter-spacing="0.00">0</text>
<line x1="569.50" y1="73.50" x2="606.00" y2="73.50" stroke="#ff0000" stroke-width="3.00" stroke-linecap="round"/>
<text transform="translate(610.28,78.70) rotate(0.05) scale(1.000,1)" font-size="17.00" font-weight="bold" fill="#000" letter-spacing="0.00">7</text>
<line x1="569.50" y1="94.90" x2="606.00" y2="94.90" stroke="#0000ff" stroke-width="3.00" stroke-linecap="round"/>
<text transform="translate(610.94,100.10) rotate(0.05) scale(1.000,1)" font-size="17.00" font-weight="bold" fill="#000" letter-spacing="2.28">11</text>
<rect x="611.28" y="97.50" width="3.43" height="3.29" fill="#fff"/>
<rect x="617.36" y="97.50" width="3.35" height="3.29" fill="#fff"/>
<rect x="623.01" y="97.50" width="3.43" height="3.29" fill="#fff"/>
<rect x="629.10" y="97.50" width="3.35" height="3.29" fill="#fff"/>
<line x1="569.50" y1="116.30" x2="606.00" y2="116.30" stroke="#008080" stroke-width="3.00" stroke-linecap="round"/>
<text transform="translate(610.94,121.50) rotate(0.05) scale(1.000,1)" font-size="17.00" font-weight="bold" fill="#000" letter-spacing="0.96">15</text>
<rect x="611.28" y="118.90" width="3.43" height="3.29" fill="#fff"/>
<rect x="617.36" y="118.90" width="3.35" height="3.29" fill="#fff"/>
<line x1="569.50" y1="137.70" x2="606.00" y2="137.70" stroke="#ff00ff" stroke-width="3.00" stroke-linecap="round"/>
<text transform="translate(611.30,142.90) rotate(0.05) scale(1.000,1)" font-size="17.00" font-weight="bold" fill="#000" letter-spacing="0.90">20</text>
<line x1="569.50" y1="159.10" x2="606.00" y2="159.10" stroke="#808000" stroke-width="3.00" stroke-linecap="round"/>
<text transform="translate(611.2,164.30) rotate(0.05)" font-size="17.5" font-weight="bold" letter-spacing="0.9">%(6<tspan font-weight="normal" font-size="15" dx="0.5">)</tspan></text>

<path d="M530.50,168.90 V339.10 H735" stroke="#6e6e6e" stroke-width="1.30" fill="none"/>
<line x1="526.90" y1="339.10" x2="530.50" y2="339.10" stroke="#6e6e6e" stroke-width="1.30"/>
<line x1="528.30" y1="319.47" x2="530.50" y2="319.47" stroke="#6e6e6e" stroke-width="1.30"/>
<line x1="526.90" y1="299.85" x2="530.50" y2="299.85" stroke="#6e6e6e" stroke-width="1.30"/>
<line x1="528.30" y1="280.22" x2="530.50" y2="280.22" stroke="#6e6e6e" stroke-width="1.30"/>
<line x1="526.90" y1="260.60" x2="530.50" y2="260.60" stroke="#6e6e6e" stroke-width="1.30"/>
<line x1="528.30" y1="240.97" x2="530.50" y2="240.97" stroke="#6e6e6e" stroke-width="1.30"/>
<line x1="526.90" y1="221.35" x2="530.50" y2="221.35" stroke="#6e6e6e" stroke-width="1.30"/>
<line x1="528.30" y1="201.72" x2="530.50" y2="201.72" stroke="#6e6e6e" stroke-width="1.30"/>
<line x1="526.90" y1="182.10" x2="530.50" y2="182.10" stroke="#6e6e6e" stroke-width="1.30"/>
<line x1="547.40" y1="339.10" x2="547.40" y2="342.30" stroke="#6e6e6e" stroke-width="1.30"/>
<line x1="575.76" y1="339.10" x2="575.76" y2="341.10" stroke="#6e6e6e" stroke-width="1.30"/>
<line x1="604.13" y1="339.10" x2="604.13" y2="342.30" stroke="#6e6e6e" stroke-width="1.30"/>
<line x1="632.50" y1="339.10" x2="632.50" y2="341.10" stroke="#6e6e6e" stroke-width="1.30"/>
<line x1="660.86" y1="339.10" x2="660.86" y2="342.30" stroke="#6e6e6e" stroke-width="1.30"/>
<line x1="689.22" y1="339.10" x2="689.22" y2="341.10" stroke="#6e6e6e" stroke-width="1.30"/>
<line x1="717.59" y1="339.10" x2="717.59" y2="342.30" stroke="#6e6e6e" stroke-width="1.30"/>
<text transform="translate(498.82,185.40) rotate(0.05) scale(0.940,1)" font-size="15.00" font-weight="bold" fill="#000" letter-spacing="1.15">105</text>
<rect x="499.10" y="183.07" width="2.85" height="3.03" fill="#fff"/>
<rect x="504.15" y="183.07" width="2.78" height="3.03" fill="#fff"/>
<text transform="translate(507.41,224.65) rotate(0.05) scale(0.940,1)" font-size="15.00" font-weight="bold" fill="#000" letter-spacing="1.71">90</text>
<text transform="translate(507.30,263.90) rotate(0.05) scale(0.940,1)" font-size="15.00" font-weight="bold" fill="#000" letter-spacing="1.63">75</text>
<text transform="translate(507.37,303.15) rotate(0.05) scale(0.940,1)" font-size="15.00" font-weight="bold" fill="#000" letter-spacing="1.75">60</text>
<text transform="translate(507.69,342.40) rotate(0.05) scale(0.940,1)" font-size="15.00" font-weight="bold" fill="#000" letter-spacing="1.22">45</text>
<text transform="translate(543.27,354.90) rotate(0.05) scale(0.940,1)" font-size="14.70" font-weight="bold" fill="#000" letter-spacing="0.00">0</text>
<text transform="translate(595.62,354.90) rotate(0.05) scale(0.940,1)" font-size="14.70" font-weight="bold" fill="#000" letter-spacing="0.83">10</text>
<rect x="595.89" y="352.62" width="2.79" height="2.98" fill="#fff"/>
<rect x="600.84" y="352.62" width="2.72" height="2.98" fill="#fff"/>
<text transform="translate(652.18,354.90) rotate(0.05) scale(0.940,1)" font-size="14.70" font-weight="bold" fill="#000" letter-spacing="1.59">20</text>
<text transform="translate(709.08,354.90) rotate(0.05) scale(0.940,1)" font-size="14.70" font-weight="bold" fill="#000" letter-spacing="1.41">30</text>
<text transform="translate(563.73,374.20) rotate(0.05) scale(1.000,1)" font-size="15.00" font-weight="bold" fill="#000" letter-spacing="0.62">Ag (mg/electrode)</text>
<text transform="translate(488,286.9) rotate(-89.95)" font-size="14" font-weight="bold">Ipa<tspan font-weight="normal" font-size="11" dx="0.6">(</tspan><tspan font-weight="normal" font-size="13.5">μ</tspan><tspan dx="1">A</tspan><tspan font-weight="normal" font-size="11">)</tspan></text>
<path d="M547.30,224.60 L548.73,224.29 L550.16,223.99 L551.59,223.69 L553.02,223.39 L554.45,223.09 L555.88,222.79 L557.31,222.50 L558.74,222.22 L560.17,221.94 L561.60,221.67 L563.03,221.41 L564.46,221.15 L565.89,220.90 L567.32,220.67 L568.75,220.44 L570.18,220.23 L571.61,220.02 L573.04,219.83 L574.47,219.66 L575.91,219.49 L577.34,219.35 L578.77,219.21 L580.20,219.10 L581.63,219.00 L583.06,218.92 L584.49,218.86 L585.92,218.82 L587.35,218.80 L588.78,218.80 L590.21,218.80 L591.64,218.78 L593.07,218.75 L594.50,218.66 L595.93,218.52 L597.36,218.31 L598.79,218.01 L600.22,217.60 L601.65,217.07 L603.08,216.41 L604.51,215.59 L605.94,214.61 L607.37,213.44 L608.80,212.08 L610.23,210.50 L611.66,208.72 L613.09,206.78 L614.52,204.73 L615.95,202.63 L617.38,200.53 L618.81,198.47 L620.24,196.52 L621.67,194.72 L623.10,193.12 L624.53,191.77 L625.96,190.74 L627.39,190.06 L628.82,189.79 L630.25,189.96 L631.68,190.55 L633.12,191.54 L634.55,192.89 L635.98,194.59 L637.41,196.59 L638.84,198.89 L640.27,201.44 L641.70,204.22 L643.13,207.21 L644.56,210.37 L645.99,213.68 L647.42,217.12 L648.85,220.65 L650.28,224.25 L651.71,227.89 L653.14,231.55 L654.57,235.19 L656.00,238.79 L657.43,242.32 L658.86,245.76 L660.29,249.08 L661.72,252.24 L663.15,255.26 L664.58,258.12 L666.01,260.84 L667.44,263.42 L668.87,265.85 L670.30,268.16 L671.73,270.33 L673.16,272.37 L674.59,274.30 L676.02,276.10 L677.45,277.79 L678.88,279.37 L680.31,280.84 L681.74,282.21 L683.17,283.48 L684.60,284.66 L686.03,285.74 L687.46,286.74 L688.89,287.66 L690.33,288.49 L691.76,289.25 L693.19,289.94 L694.62,290.56 L696.05,291.12 L697.48,291.62 L698.91,292.07 L700.34,292.46 L701.77,292.80 L703.20,293.11 L704.63,293.37 L706.06,293.59 L707.49,293.79 L708.92,293.96 L710.35,294.10 L711.78,294.22 L713.21,294.33 L714.64,294.43 L716.07,294.52 L717.50,294.60" stroke="#ff0000" stroke-width="2.20" fill="none" mask="url(#m_cd)"/>
<path d="M547.30,287.60 L548.73,287.59 L550.16,287.57 L551.59,287.55 L553.02,287.53 L554.45,287.50 L555.88,287.46 L557.31,287.42 L558.74,287.37 L560.17,287.31 L561.60,287.23 L563.03,287.14 L564.46,287.04 L565.89,286.92 L567.32,286.79 L568.75,286.63 L570.18,286.46 L571.61,286.27 L573.04,286.05 L574.47,285.81 L575.91,285.54 L577.34,285.25 L578.77,284.93 L580.20,284.58 L581.63,284.20 L583.06,283.79 L584.49,283.34 L585.92,282.86 L587.35,282.35 L588.78,281.79 L590.21,281.20 L591.64,280.57 L593.07,279.91 L594.50,279.20 L595.93,278.45 L597.36,277.66 L598.79,276.82 L600.22,275.95 L601.65,275.02 L603.08,274.06 L604.51,273.04 L605.94,271.98 L607.37,270.88 L608.80,269.72 L610.23,268.52 L611.66,267.27 L613.09,266.00 L614.52,264.72 L615.95,263.47 L617.38,262.26 L618.81,261.10 L620.24,260.04 L621.67,259.08 L623.10,258.24 L624.53,257.55 L625.96,257.03 L627.39,256.71 L628.82,256.59 L630.25,256.70 L631.68,257.02 L633.12,257.55 L634.55,258.25 L635.98,259.14 L637.41,260.18 L638.84,261.37 L640.27,262.69 L641.70,264.14 L643.13,265.69 L644.56,267.34 L645.99,269.07 L647.42,270.86 L648.85,272.72 L650.28,274.61 L651.71,276.54 L653.14,278.48 L654.57,280.42 L656.00,282.35 L657.43,284.27 L658.86,286.14 L660.29,287.96 L661.72,289.73 L663.15,291.42 L664.58,293.05 L666.01,294.62 L667.44,296.13 L668.87,297.58 L670.30,298.97 L671.73,300.31 L673.16,301.59 L674.59,302.81 L676.02,303.99 L677.45,305.12 L678.88,306.20 L680.31,307.23 L681.74,308.22 L683.17,309.17 L684.60,310.08 L686.03,310.95 L687.46,311.78 L688.89,312.57 L690.33,313.33 L691.76,314.06 L693.19,314.76 L694.62,315.43 L696.05,316.07 L697.48,316.69 L698.91,317.28 L700.34,317.85 L701.77,318.40 L703.20,318.94 L704.63,319.45 L706.06,319.95 L707.49,320.44 L708.92,320.91 L710.35,321.37 L711.78,321.83 L713.21,322.28 L714.64,322.72 L716.07,323.16 L717.50,323.60" stroke="#ff0000" stroke-width="2.20" fill="none" mask="url(#m_pb)"/>
<rect x="545.00" y="222.30" width="4.60" height="4.60" fill="#000"/>
<rect x="584.90" y="216.50" width="4.60" height="4.60" fill="#000"/>
<rect x="607.50" y="208.70" width="4.60" height="4.60" fill="#000"/>
<rect x="626.30" y="187.50" width="4.60" height="4.60" fill="#000"/>
<rect x="658.40" y="247.70" width="4.60" height="4.60" fill="#000"/>
<rect x="715.20" y="292.30" width="4.60" height="4.60" fill="#000"/>
<rect x="545.00" y="285.30" width="4.60" height="4.60" fill="#000"/>
<rect x="584.90" y="280.10" width="4.60" height="4.60" fill="#000"/>
<rect x="607.60" y="266.50" width="4.60" height="4.60" fill="#000"/>
<rect x="626.20" y="254.30" width="4.60" height="4.60" fill="#000"/>
<rect x="658.50" y="286.30" width="4.60" height="4.60" fill="#000"/>
<rect x="715.20" y="321.30" width="4.60" height="4.60" fill="#000"/>
<text transform="translate(636.52,190.80) rotate(0.05) scale(1.000,1)" font-size="14.60" font-weight="bold" fill="#000" letter-spacing="1.68">Cd</text>
<text transform="translate(616.80,285.10) rotate(0.05) scale(1.000,1)" font-size="14.80" font-weight="bold" fill="#000" letter-spacing="0.98">Pb</text>
</svg>
</body></html>
